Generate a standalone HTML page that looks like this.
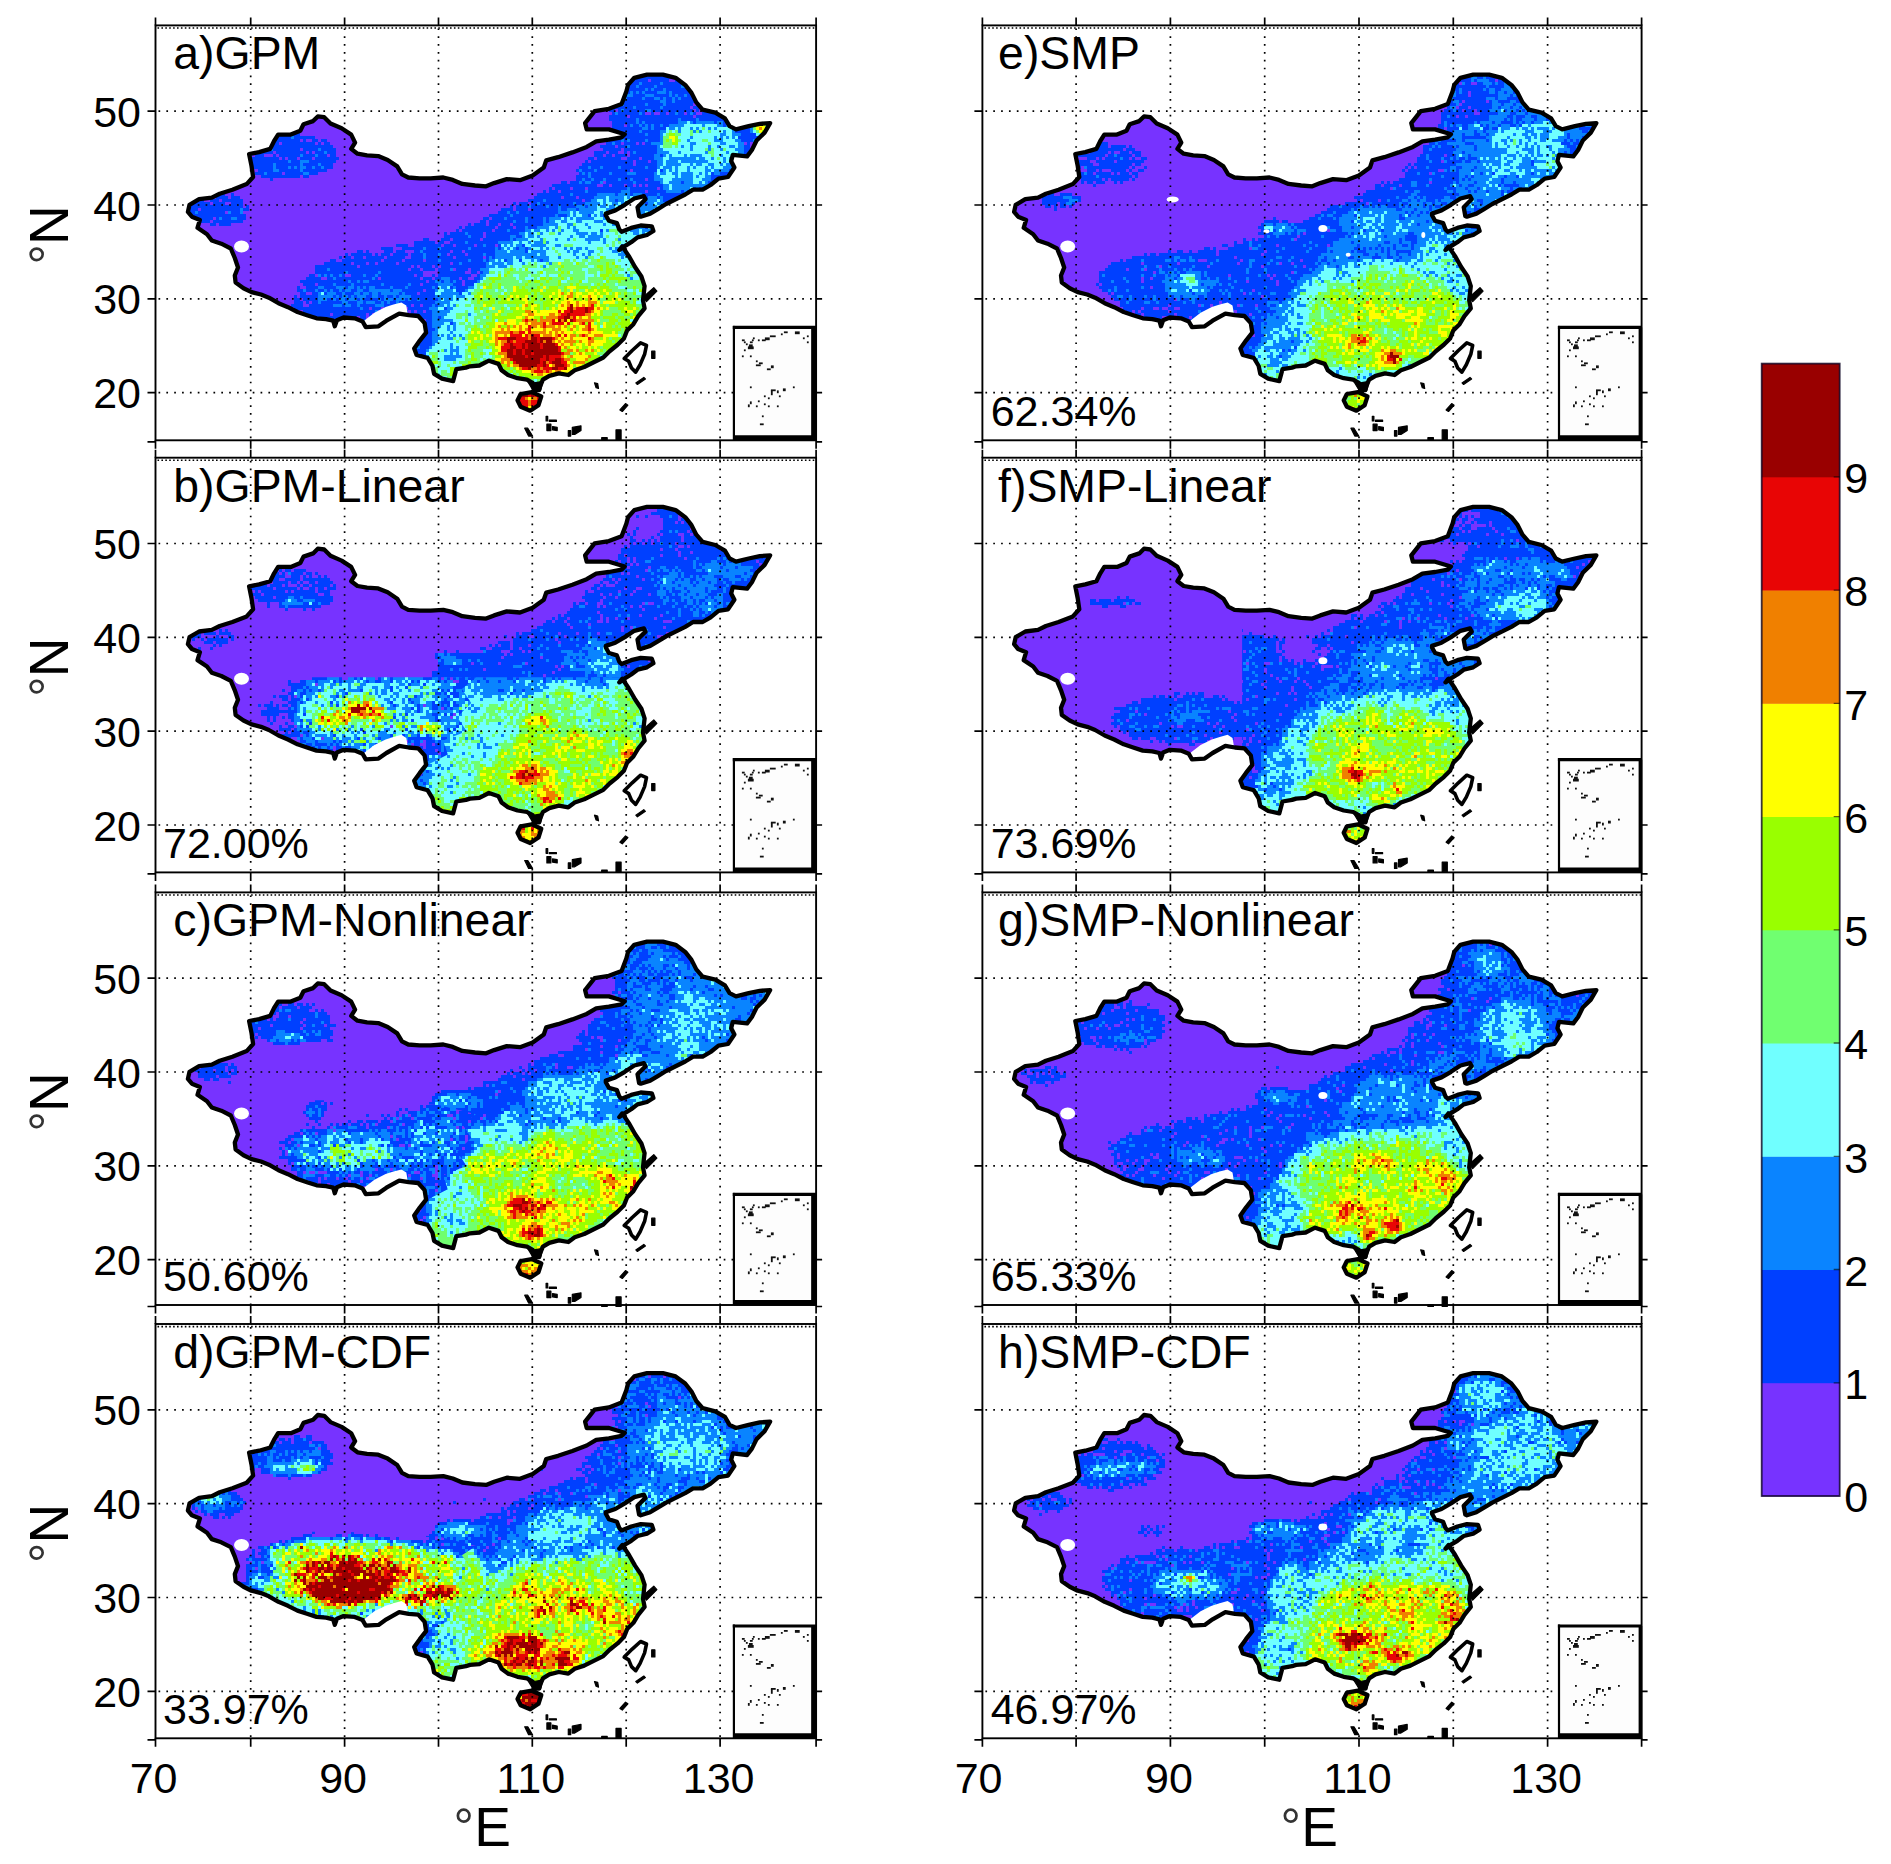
<!DOCTYPE html>
<html lang="en"><head><meta charset="utf-8"><title>Precipitation maps</title>
<style>html,body{margin:0;padding:0;background:#fff}svg{display:block}text{font-family:"Liberation Sans",Arial,Helvetica,sans-serif;fill:#000}</style></head><body>
<svg width="1891" height="1864" viewBox="0 0 1891 1864">
<rect width="1891" height="1864" fill="#fff"/>
<defs>
<path id="cn" d="M93.6,128.6 L96.0,140.5 L97.6,151.6 L91.2,158.7 L76.9,164.3 L64.2,168.3 L56.3,172.2 L43.6,173.8 L34.0,179.4 L32.4,186.5 L36.4,191.3 L44.4,194.5 L42.0,202.4 L51.5,208.8 L56.3,215.1 L65.8,218.3 L75.3,223.1 L79.3,232.6 L82.5,242.1 L79.3,250.1 L80.1,257.2 L88.0,262.8 L96.0,266.7 L105.5,269.1 L113.4,272.3 L123.0,277.8 L132.5,281.8 L142.0,286.6 L151.5,289.8 L161.1,292.9 L170.6,293.7 L177.7,295.3 L179.3,300.9 L181.4,294.8 L188.1,292.1 L199.2,292.9 L207.1,296.1 L210.3,301.7 L223.0,300.9 L230.9,295.3 L243.7,288.2 L253.2,289.8 L262.7,290.6 L269.1,297.7 L270.6,307.2 L264.3,315.2 L258.7,323.1 L261.1,329.5 L272.2,332.6 L277.0,340.6 L278.6,348.5 L286.5,353.3 L297.6,355.7 L300.8,343.8 L310.4,342.2 L314.4,340.9 L323.9,340.1 L333.4,335.3 L343.0,338.5 L346.1,344.8 L352.5,349.6 L362.0,352.8 L371.5,354.3 L377.1,357.5 L378.7,364.7 L383.5,364.7 L385.0,359.9 L387.4,354.3 L393.8,350.4 L403.3,348.0 L412.8,349.6 L419.2,344.8 L428.7,341.6 L438.2,336.9 L447.8,332.1 L454.1,325.8 L462.1,319.4 L468.4,313.1 L471.6,305.1 L477.9,298.8 L482.7,290.8 L489.1,282.9 L487.5,274.9 L489.1,260.7 L485.9,251.1 L479.5,241.6 L473.2,230.5 L466.8,221.0 L463.8,224.7 L469.3,220.7 L475.7,216.8 L482.0,212.0 L491.5,209.6 L497.9,205.6 L496.3,200.9 L485.2,200.1 L475.7,202.5 L466.1,206.4 L463.8,204.1 L461.4,197.7 L453.4,195.3 L450.3,189.8 L450.3,188.2 L459.8,185.0 L469.3,179.4 L478.8,173.1 L488.4,170.7 L490.0,173.9 L482.0,181.8 L483.6,190.6 L485.2,191.3 L494.7,188.2 L502.7,183.4 L510.6,178.6 L520.1,173.9 L529.7,169.1 L537.6,164.3 L547.1,164.3 L555.1,159.6 L563.0,153.2 L572.5,151.6 L578.9,142.1 L575.7,135.8 L577.3,129.4 L591.6,131.0 L596.4,124.6 L601.1,115.1 L609.1,107.2 L614.6,97.7 L604.3,98.4 L593.2,100.8 L580.5,104.0 L574.1,100.8 L569.4,92.9 L559.8,87.3 L547.1,84.2 L540.8,77.0 L536.0,67.5 L529.7,59.5 L520.1,52.4 L507.4,49.2 L491.5,49.2 L478.8,52.4 L472.5,59.5 L470.9,65.9 L466.1,78.6 L453.4,83.4 L439.1,85.7 L429.6,97.7 L431.2,104.0 L453.4,104.0 L469.3,108.8 L466.1,111.9 L453.4,114.3 L440.7,115.9 L431.2,121.5 L416.9,127.0 L402.6,131.8 L390.7,135.0 L388.3,142.1 L377.2,150.1 L364.5,154.8 L351.3,153.7 L338.6,157.7 L330.6,160.9 L319.5,160.1 L306.8,158.5 L297.3,154.5 L287.8,152.1 L275.1,152.9 L264.0,152.9 L252.8,152.1 L246.5,148.9 L241.7,141.0 L232.2,134.6 L222.7,130.7 L211.5,129.9 L202.0,128.3 L195.7,123.5 L199.6,117.2 L195.7,109.2 L186.1,102.9 L175.0,98.1 L168.7,91.8 L162.3,91.0 L157.6,95.7 L148.0,98.9 L144.8,105.3 L135.3,109.2 L122.6,109.2 L118.6,115.6 L114.7,123.5 L103.6,126.7Z"/>
<path id="hn" d="M362.0,375.0 L365.2,368.6 L376.3,366.7 L385.8,371.0 L383.0,379.8 L374.7,385.3 L365.2,381.3Z"/>
<path id="tw" d="M485.1,317.5 L491.0,320.0 L489.1,328.9 L484.6,339.4 L480.2,346.7 L476.0,342.6 L473.2,335.9 L468.7,333.1 L476.7,325.1Z"/>
<clipPath id="clip"><use href="#cn"/><use href="#hn"/></clipPath>
<g id="mk" fill="#000" stroke="#000" stroke-width="1.2" stroke-linejoin="round"><path d="M371.5,355.1 L378.7,357.5 L387.4,355.9 L385.0,365.5 L377.9,365.5Z"/><path d="M496.2,325.8 L499.4,325.8 L499.4,332.9 L496.2,332.9Z"/><path d="M480.3,357.5 L488.3,352.0 L489.9,353.6 L481.9,359.1Z"/><path d="M439.0,357.5 L442.2,358.3 L443.0,363.1 L440.6,362.3Z"/><path d="M464.4,384.5 L470.0,378.2 L472.4,379.8 L466.8,386.1Z"/><path d="M369.2,402.8 L372.3,402.8 L377.1,410.7 L373.1,410.7Z"/><path d="M412.8,405.2 L415.2,405.2 L415.2,410.7 L412.8,410.7Z"/><path d="M416.8,402.0 L425.5,400.4 L425.5,405.2 L419.2,409.1 L416.8,409.1Z"/><path d="M460.5,404.4 L465.6,404.4 L465.6,414.1 L460.5,414.1Z"/><path d="M446.2,412.3 L451.7,412.3 L451.7,414.1 L446.2,414.1Z"/><path d="M390.6,390.9 L392.2,390.9 L392.2,395.6 L390.6,395.6Z"/><path d="M393.8,394.8 L400.9,394.8 L400.9,396.0 L393.8,396.0Z"/><path d="M391.4,398.8 L395.4,398.8 L395.4,405.2 L391.4,405.2Z"/><path d="M397.0,401.2 L401.7,402.0 L401.7,405.2 L397.0,404.4Z"/><path d="M487.5,271.8 L498.3,262.2 L501.4,265.7 L491.0,276.2Z"/></g>
</defs>
<g transform="translate(155.5,25.4)"><g><filter id="f0_0" filterUnits="userSpaceOnUse" x="0" y="0" width="663" height="417" color-interpolation-filters="sRGB"><feGaussianBlur in="SourceGraphic" stdDeviation="3.0" result="b"/><feTurbulence type="fractalNoise" baseFrequency="0.050" numOctaves="2" seed="3" result="t1"/><feColorMatrix in="t1" type="matrix" values="1 0 0 0 0 1 0 0 0 0 1 0 0 0 0 0 0 0 0 1" result="n1"/><feComposite in="b" in2="n1" operator="arithmetic" k1="0.5500" k2="0.7250" k3="0" k4="0" result="s1"/><feTurbulence type="fractalNoise" baseFrequency="0.400" numOctaves="1" seed="11" result="t2"/><feColorMatrix in="t2" type="matrix" values="0 1 0 0 0 0 1 0 0 0 0 1 0 0 0 0 0 0 0 1" result="n2"/><feComposite in="s1" in2="n2" operator="arithmetic" k1="0.6000" k2="0.7000" k3="0.0929" k4="-0.0464" result="s2"/><feFlood x="1" y="1" width="1" height="1" flood-color="#fff" result="dot"/><feComposite in="dot" in2="dot" operator="over" x="0" y="0" width="3" height="3" result="cell"/><feTile in="cell" result="grid"/><feComposite in="s2" in2="grid" operator="in" result="sm"/><feMorphology in="sm" operator="dilate" radius="1" result="pix"/><feComponentTransfer in="pix"><feFuncR type="discrete" tableValues="0.467 0.467 0.000 0.039 0.439 0.439 0.600 1.000 0.941 0.910 0.600 0.600 0.600 0.600"/><feFuncG type="discrete" tableValues="0.200 0.200 0.251 0.518 1.000 1.000 1.000 1.000 0.502 0.020 0.000 0.000 0.000 0.000"/><feFuncB type="discrete" tableValues="1.000 1.000 1.000 1.000 1.000 0.439 0.000 0.000 0.000 0.020 0.000 0.000 0.000 0.000"/></feComponentTransfer></filter><g clip-path="url(#clip)"><g><g transform="translate(0.50,-0.40)"><g filter="url(#f0_0)"><g transform="translate(-0.50,0.40)"><rect x="-20" y="-20" width="700.6" height="454.9" fill="#121212"/><ellipse cx="132.8" cy="130.8" rx="51.6" ry="24.4" fill="#2c2c2c"/><ellipse cx="142.1" cy="142.1" rx="32.9" ry="3.8" fill="#3a3a3a"/><ellipse cx="62.3" cy="184.3" rx="32.9" ry="18.8" fill="#2c2c2c"/><path d="M156.2,311.0 L135.6,278.2 L146.8,251.9 L170.3,233.1 L226.6,221.9 L273.6,212.5 L320.5,195.6 L358.1,176.8 L395.6,160.9 L423.8,140.2 L447.2,118.6 L461.3,85.8 L480.1,38.9 L630.3,38.9 L630.3,404.8 L156.2,404.8Z" fill="#2c2c2c"/><ellipse cx="203.2" cy="269.7" rx="46.9" ry="11.3" fill="#3c3c3c"/><ellipse cx="289.5" cy="287.5" rx="13.1" ry="37.5" fill="#3e3e3e"/><ellipse cx="367.5" cy="148.7" rx="56.3" ry="11.3" fill="#181818"/><ellipse cx="489.5" cy="85.8" rx="37.6" ry="32.8" fill="#313131"/><ellipse cx="545.8" cy="123.3" rx="42.2" ry="28.1" fill="#4c4c4c"/><ellipse cx="527.0" cy="146.8" rx="28.2" ry="18.8" fill="#474747"/><ellipse cx="514.8" cy="113.9" rx="8.4" ry="8.4" fill="#808080"/><ellipse cx="605.9" cy="102.7" rx="6.6" ry="4.7" fill="#bfbfbf"/><path d="M320.5,273.5 L329.9,235.9 L358.1,212.5 L395.6,193.7 L433.2,174.9 L470.7,164.6 L508.3,170.2 L508.3,273.5Z" fill="#454545"/><ellipse cx="433.2" cy="221.9" rx="46.9" ry="28.1" fill="#505050"/><path d="M268.9,367.3 L273.6,325.1 L287.7,301.6 L304.6,273.5 L323.3,254.7 L358.1,240.6 L423.8,233.1 L498.9,233.1 L508.3,301.6 L461.3,367.3 L358.1,376.7Z" fill="#646464"/><ellipse cx="297.0" cy="315.7" rx="18.8" ry="23.5" fill="#4c4c4c"/><ellipse cx="405.0" cy="287.5" rx="75.1" ry="28.1" fill="#767676"/><ellipse cx="456.6" cy="301.6" rx="28.2" ry="37.5" fill="#757575"/><ellipse cx="339.3" cy="320.4" rx="28.2" ry="23.5" fill="#737373"/><ellipse cx="390.9" cy="315.7" rx="56.3" ry="31.9" fill="#8a8a8a"/><ellipse cx="414.4" cy="289.4" rx="37.6" ry="11.3" fill="#8a8a8a" transform="rotate(-15 414.4 289.4)"/><ellipse cx="379.7" cy="327.9" rx="26.3" ry="17.8" fill="#c5c5c5"/><ellipse cx="409.7" cy="290.3" rx="28.2" ry="6.6" fill="#bdbdbd" transform="rotate(-15 409.7 290.3)"/><ellipse cx="395.6" cy="341.0" rx="20.7" ry="9.4" fill="#bdbdbd"/><ellipse cx="362.8" cy="320.4" rx="14.1" ry="14.1" fill="#adadad"/><ellipse cx="374.0" cy="374.8" rx="18.8" ry="14.1" fill="#adadad"/></g></g></g></g></g><path d="M208.2,295.6 L218.9,287.3 L230.1,281.7 L238.0,279.2 L245.9,277.1 L250.8,280.2 L252.1,287.5 L241.2,288.7 L225.3,300.2 L209.4,300.2Z" fill="#fff"/><ellipse cx="86" cy="221" rx="7.5" ry="6" fill="#fff"/><g fill="none" stroke="#000" stroke-width="4.3" stroke-linejoin="round"><use href="#cn"/><use href="#hn"/></g><use href="#tw" fill="#fff" stroke="#000" stroke-width="3.6" stroke-linejoin="round"/><use href="#mk"/></g><path d="M95.2,3V414.9M189.1,3V414.9M283.0,3V414.9M376.8,3V414.9M470.7,3V414.9M564.6,3V414.9M3,367.3H660.6M3,273.5H660.6M3,179.6H660.6M3,85.8H660.6" fill="none" stroke="#000" stroke-width="1.7" stroke-dasharray="1.7 6.15"/><path d="M2,2.6H660.6" fill="none" stroke="#000" stroke-width="1.6" stroke-dasharray="1.6 2.3"/><rect x="578.4" y="302.0" width="82.2" height="112.9" fill="#fdfdfd"/><path d="M578.4,414.9V300.5" stroke="#000" stroke-width="2.2" fill="none"/><path d="M577.3,302.0H660.6" stroke="#000" stroke-width="3.2" fill="none"/><path d="M658.4,302.0V414.9" stroke="#000" stroke-width="5.5" fill="none"/><path d="M578.4,412.7H660.6" stroke="#000" stroke-width="5.5" fill="none"/><g fill="#111"><rect x="586.4" y="314.0" width="2.8" height="1.8"/><rect x="588.4" y="316.0" width="1.8" height="1.8"/><rect x="590.4" y="318.0" width="1.8" height="1.8"/><rect x="592.4" y="321.0" width="5.8" height="2.8"/><rect x="593.4" y="319.0" width="3.8" height="2.8"/><rect x="594.4" y="316.0" width="2.8" height="1.8"/><rect x="596.4" y="314.0" width="1.8" height="1.8"/><rect x="597.4" y="312.0" width="1.8" height="1.8"/><rect x="602.4" y="314.0" width="1.8" height="1.8"/><rect x="606.4" y="314.0" width="3.8" height="1.8"/><rect x="609.4" y="312.0" width="4.8" height="2.8"/><rect x="614.4" y="310.0" width="5.8" height="1.8"/><rect x="625.4" y="308.0" width="1.8" height="1.8"/><rect x="628.4" y="306.0" width="3.8" height="1.8"/><rect x="639.4" y="306.0" width="4.8" height="2.8"/><rect x="647.4" y="312.0" width="1.8" height="1.8"/><rect x="651.4" y="310.0" width="1.8" height="1.8"/><rect x="651.4" y="316.0" width="1.8" height="1.8"/><rect x="588.4" y="324.0" width="1.8" height="1.8"/><rect x="586.4" y="330.0" width="1.8" height="1.8"/><rect x="594.4" y="330.0" width="1.8" height="1.8"/><rect x="600.4" y="335.0" width="1.8" height="1.8"/><rect x="600.4" y="339.0" width="4.8" height="1.8"/><rect x="603.4" y="337.0" width="3.8" height="1.8"/><rect x="611.4" y="343.0" width="3.8" height="1.8"/><rect x="615.4" y="340.0" width="2.8" height="2.8"/><rect x="594.4" y="361.0" width="1.8" height="1.8"/><rect x="637.4" y="361.0" width="1.8" height="1.8"/><rect x="615.4" y="365.0" width="1.8" height="4.8"/><rect x="615.4" y="364.0" width="4.8" height="1.8"/><rect x="621.4" y="365.0" width="1.8" height="2.8"/><rect x="627.4" y="363.0" width="2.8" height="2.8"/><rect x="608.4" y="370.0" width="1.8" height="1.8"/><rect x="612.4" y="372.0" width="1.8" height="1.8"/><rect x="623.4" y="370.0" width="1.8" height="1.8"/><rect x="602.4" y="375.0" width="1.8" height="1.8"/><rect x="594.4" y="376.0" width="1.8" height="2.8"/><rect x="592.4" y="379.0" width="1.8" height="2.8"/><rect x="600.4" y="380.0" width="1.8" height="1.8"/><rect x="608.4" y="378.0" width="1.8" height="1.8"/><rect x="612.4" y="380.0" width="1.8" height="1.8"/><rect x="621.4" y="380.0" width="1.8" height="1.8"/><rect x="606.4" y="390.0" width="1.8" height="1.8"/><rect x="604.4" y="398.0" width="3.8" height="1.8"/></g><rect x="0" y="0" width="660.6" height="414.9" fill="none" stroke="#000" stroke-width="1.9"/><path d="M0.0,0v-8M0.0,414.9v8.5M95.2,0v-8M95.2,414.9v8.5M189.1,0v-8M189.1,414.9v8.5M283.0,0v-8M283.0,414.9v8.5M376.8,0v-8M376.8,414.9v8.5M470.7,0v-8M470.7,414.9v8.5M564.6,0v-8M564.6,414.9v8.5M660.6,0v-8M660.6,414.9v8.5M0,367.3h-8M660.6,367.3h6M0,273.5h-8M660.6,273.5h6M0,179.6h-8M660.6,179.6h6M0,85.8h-8M660.6,85.8h6M0,416.4h-8M660.6,416.4h6" fill="none" stroke="#000" stroke-width="1.7"/><text x="-14.5" y="382.9" font-size="43" text-anchor="end">20</text><text x="-14.5" y="289.1" font-size="43" text-anchor="end">30</text><text x="-14.5" y="195.2" font-size="43" text-anchor="end">40</text><text x="-14.5" y="101.4" font-size="43" text-anchor="end">50</text><text transform="translate(-87.5,219.6) rotate(-90)" x="-19.5" y="0" font-size="55"><tspan font-size="51" dy="-1.7" fill="#333">°</tspan><tspan dy="1.7" dx="-0.9">N</tspan></text><text x="17.8" y="44.1" font-size="46.4">a)GPM</text></g>
<g transform="translate(155.5,457.7)"><g><filter id="f1_0" filterUnits="userSpaceOnUse" x="0" y="0" width="663" height="417" color-interpolation-filters="sRGB"><feGaussianBlur in="SourceGraphic" stdDeviation="3.0" result="b"/><feTurbulence type="fractalNoise" baseFrequency="0.050" numOctaves="2" seed="10" result="t1"/><feColorMatrix in="t1" type="matrix" values="1 0 0 0 0 1 0 0 0 0 1 0 0 0 0 0 0 0 0 1" result="n1"/><feComposite in="b" in2="n1" operator="arithmetic" k1="0.5500" k2="0.7250" k3="0" k4="0" result="s1"/><feTurbulence type="fractalNoise" baseFrequency="0.400" numOctaves="1" seed="16" result="t2"/><feColorMatrix in="t2" type="matrix" values="0 1 0 0 0 0 1 0 0 0 0 1 0 0 0 0 0 0 0 1" result="n2"/><feComposite in="s1" in2="n2" operator="arithmetic" k1="0.6000" k2="0.7000" k3="0.0929" k4="-0.0464" result="s2"/><feFlood x="1" y="1" width="1" height="1" flood-color="#fff" result="dot"/><feComposite in="dot" in2="dot" operator="over" x="0" y="0" width="3" height="3" result="cell"/><feTile in="cell" result="grid"/><feComposite in="s2" in2="grid" operator="in" result="sm"/><feMorphology in="sm" operator="dilate" radius="1" result="pix"/><feComponentTransfer in="pix"><feFuncR type="discrete" tableValues="0.467 0.467 0.000 0.039 0.439 0.439 0.600 1.000 0.941 0.910 0.600 0.600 0.600 0.600"/><feFuncG type="discrete" tableValues="0.200 0.200 0.251 0.518 1.000 1.000 1.000 1.000 0.502 0.020 0.000 0.000 0.000 0.000"/><feFuncB type="discrete" tableValues="1.000 1.000 1.000 1.000 1.000 0.439 0.000 0.000 0.000 0.020 0.000 0.000 0.000 0.000"/></feComponentTransfer></filter><g clip-path="url(#clip)"><g><g transform="translate(0.50,0.30)"><g filter="url(#f1_0)"><g transform="translate(-0.50,-0.30)"><rect x="-20" y="-20" width="700.6" height="454.7" fill="#121212"/><ellipse cx="132.8" cy="130.8" rx="46.9" ry="21.6" fill="#2a2a2a"/><ellipse cx="151.5" cy="144.9" rx="28.2" ry="4.7" fill="#424242"/><ellipse cx="57.6" cy="179.6" rx="23.5" ry="12.2" fill="#282828"/><path d="M264.2,226.5 L278.3,211.5 L311.1,198.4 L348.7,179.6 L386.2,165.6 L414.4,151.5 L433.2,132.7 L456.6,109.3 L470.7,76.4 L489.5,38.9 L630.3,38.9 L630.3,273.5 L264.2,273.5Z" fill="#2c2c2c"/><ellipse cx="536.4" cy="132.7" rx="37.6" ry="28.1" fill="#373737"/><ellipse cx="574.0" cy="113.9" rx="23.5" ry="14.1" fill="#3c3c3c"/><ellipse cx="433.2" cy="198.4" rx="28.2" ry="18.8" fill="#3a3a3a"/><ellipse cx="451.9" cy="203.1" rx="14.1" ry="18.8" fill="#494949"/><ellipse cx="297.0" cy="200.3" rx="18.8" ry="6.6" fill="#3e3e3e"/><ellipse cx="489.5" cy="67.0" rx="18.8" ry="18.8" fill="#1f1f1f"/></g></g></g></g></g><filter id="f1_1" filterUnits="userSpaceOnUse" x="0" y="0" width="663" height="417" color-interpolation-filters="sRGB"><feGaussianBlur in="SourceGraphic" stdDeviation="3.0" result="b"/><feTurbulence type="fractalNoise" baseFrequency="0.050" numOctaves="2" seed="10" result="t1"/><feColorMatrix in="t1" type="matrix" values="1 0 0 0 0 1 0 0 0 0 1 0 0 0 0 0 0 0 0 1" result="n1"/><feComposite in="b" in2="n1" operator="arithmetic" k1="0.5500" k2="0.7250" k3="0" k4="0" result="s1"/><feTurbulence type="fractalNoise" baseFrequency="0.400" numOctaves="1" seed="16" result="t2"/><feColorMatrix in="t2" type="matrix" values="0 1 0 0 0 0 1 0 0 0 0 1 0 0 0 0 0 0 0 1" result="n2"/><feComposite in="s1" in2="n2" operator="arithmetic" k1="0.6000" k2="0.7000" k3="0.0929" k4="-0.0464" result="s2"/><feFlood x="1" y="1" width="1" height="1" flood-color="#fff" result="dot"/><feComposite in="dot" in2="dot" operator="over" x="0" y="0" width="3" height="3" result="cell"/><feTile in="cell" result="grid"/><feComposite in="s2" in2="grid" operator="in" result="sm"/><feMorphology in="sm" operator="dilate" radius="1" result="pix"/><feComponentTransfer in="pix"><feFuncR type="discrete" tableValues="0.467 0.467 0.000 0.039 0.439 0.439 0.600 1.000 0.941 0.910 0.600 0.600 0.600 0.600"/><feFuncG type="discrete" tableValues="0.200 0.200 0.251 0.518 1.000 1.000 1.000 1.000 0.502 0.020 0.000 0.000 0.000 0.000"/><feFuncB type="discrete" tableValues="1.000 1.000 1.000 1.000 1.000 0.439 0.000 0.000 0.000 0.020 0.000 0.000 0.000 0.000"/></feComponentTransfer></filter><clipPath id="c1_1"><rect x="-92.6" y="219.5" width="844.9" height="241.6"/></clipPath><g clip-path="url(#clip)"><g clip-path="url(#c1_1)"><g transform="translate(0.50,0.30)"><g filter="url(#f1_1)"><g transform="translate(-0.50,-0.30)"><rect x="-20" y="-20" width="700.6" height="454.7" fill="#121212"/><ellipse cx="132.8" cy="254.7" rx="28.2" ry="28.1" fill="#212121"/><path d="M254.8,404.8 L254.8,273.5 L278.3,217.2 L630.3,217.2 L630.3,404.8Z" fill="#424242"/><path d="M301.7,224.7 L301.7,282.8 L508.3,282.8 L508.3,224.7Z" fill="#4c4c4c"/><ellipse cx="414.4" cy="252.8" rx="70.4" ry="20.6" fill="#616161"/><ellipse cx="470.7" cy="240.6" rx="23.5" ry="18.8" fill="#5b5b5b"/><ellipse cx="367.5" cy="233.1" rx="28.2" ry="7.5" fill="#424242"/><path d="M268.9,367.3 L273.6,325.1 L287.7,301.6 L304.6,273.5 L323.3,254.7 L358.1,240.6 L423.8,233.1 L498.9,233.1 L508.3,301.6 L461.3,367.3 L358.1,376.7Z" fill="#626262"/><ellipse cx="297.0" cy="315.7" rx="23.5" ry="28.1" fill="#545454"/><ellipse cx="339.3" cy="287.5" rx="28.2" ry="23.5" fill="#545454"/><ellipse cx="414.4" cy="306.3" rx="75.1" ry="35.7" fill="#737373"/><ellipse cx="358.1" cy="326.9" rx="37.6" ry="20.6" fill="#717171"/><ellipse cx="423.8" cy="280.0" rx="14.1" ry="7.5" fill="#8a8a8a"/><ellipse cx="456.6" cy="315.7" rx="14.1" ry="11.3" fill="#878787"/><ellipse cx="472.6" cy="296.9" rx="7.5" ry="14.1" fill="#929292"/><ellipse cx="372.1" cy="317.6" rx="28.2" ry="9.4" fill="#8e8e8e" transform="rotate(-10 372.1 317.6)"/><ellipse cx="372.1" cy="316.6" rx="18.8" ry="3.8" fill="#bababa" transform="rotate(-10 372.1 316.6)"/><ellipse cx="395.6" cy="339.1" rx="14.1" ry="11.3" fill="#8e8e8e"/><ellipse cx="381.5" cy="264.1" rx="14.1" ry="7.5" fill="#878787"/><ellipse cx="374.0" cy="374.8" rx="18.8" ry="14.1" fill="#9b9b9b"/></g></g></g></g></g><filter id="f1_2" filterUnits="userSpaceOnUse" x="0" y="0" width="663" height="417" color-interpolation-filters="sRGB"><feGaussianBlur in="SourceGraphic" stdDeviation="4.0" result="b"/><feTurbulence type="fractalNoise" baseFrequency="0.050" numOctaves="2" seed="10" result="t1"/><feColorMatrix in="t1" type="matrix" values="1 0 0 0 0 1 0 0 0 0 1 0 0 0 0 0 0 0 0 1" result="n1"/><feComposite in="b" in2="n1" operator="arithmetic" k1="0.8000" k2="0.6000" k3="0" k4="0" result="s1"/><feTurbulence type="fractalNoise" baseFrequency="0.400" numOctaves="1" seed="16" result="t2"/><feColorMatrix in="t2" type="matrix" values="0 1 0 0 0 0 1 0 0 0 0 1 0 0 0 0 0 0 0 1" result="n2"/><feComposite in="s1" in2="n2" operator="arithmetic" k1="1.5000" k2="0.2500" k3="0.0929" k4="-0.0464" result="s2"/><feFlood x="1" y="1" width="1" height="1" flood-color="#fff" result="dot"/><feComposite in="dot" in2="dot" operator="over" x="0" y="0" width="3" height="3" result="cell"/><feTile in="cell" result="grid"/><feComposite in="s2" in2="grid" operator="in" result="sm"/><feMorphology in="sm" operator="dilate" radius="1" result="pix"/><feComponentTransfer in="pix"><feFuncR type="discrete" tableValues="0.467 0.467 0.000 0.039 0.439 0.439 0.600 1.000 0.941 0.910 0.600 0.600 0.600 0.600"/><feFuncG type="discrete" tableValues="0.200 0.200 0.251 0.518 1.000 1.000 1.000 1.000 0.502 0.020 0.000 0.000 0.000 0.000"/><feFuncB type="discrete" tableValues="1.000 1.000 1.000 1.000 1.000 0.439 0.000 0.000 0.000 0.020 0.000 0.000 0.000 0.000"/></feComponentTransfer></filter><clipPath id="c1_2"><path d="M76.4,219.5 L320.5,219.5 L306.4,231.2 L315.8,245.3 L301.7,259.4 L311.1,273.5 L287.7,282.8 L292.3,296.9 L273.6,306.3 L264.2,320.4 L76.4,320.4Z"/></clipPath><g clip-path="url(#clip)"><g clip-path="url(#c1_2)"><g transform="translate(0.50,0.30)"><g filter="url(#f1_2)"><g transform="translate(-0.50,-0.30)"><rect x="-20" y="-20" width="700.6" height="454.7" fill="#121212"/><ellipse cx="132.8" cy="254.7" rx="28.2" ry="32.8" fill="#212121"/><path d="M151.5,217.2 L132.8,245.3 L142.1,282.8 L151.5,329.8 L339.3,329.8 L339.3,217.2Z" fill="#3c3c3c"/><ellipse cx="207.9" cy="254.7" rx="65.7" ry="32.8" fill="#4b4b4b"/><ellipse cx="198.5" cy="257.5" rx="37.6" ry="16.9" fill="#5f5f5f"/><ellipse cx="210.7" cy="252.8" rx="22.5" ry="5.6" fill="#d1d1d1" transform="rotate(8 210.7 252.8)"/><ellipse cx="175.0" cy="261.3" rx="18.8" ry="4.7" fill="#9b9b9b"/><ellipse cx="273.6" cy="273.5" rx="14.1" ry="4.7" fill="#adadad"/><ellipse cx="259.5" cy="240.6" rx="28.2" ry="18.8" fill="#494949"/><ellipse cx="268.9" cy="284.7" rx="14.1" ry="11.3" fill="#212121"/></g></g></g></g></g><path d="M208.2,295.6 L218.9,287.3 L230.1,281.7 L238.0,279.2 L245.9,277.1 L250.8,280.2 L252.1,287.5 L241.2,288.7 L225.3,300.2 L209.4,300.2Z" fill="#fff"/><ellipse cx="86" cy="221" rx="7.5" ry="6" fill="#fff"/><g fill="none" stroke="#000" stroke-width="4.3" stroke-linejoin="round"><use href="#cn"/><use href="#hn"/></g><use href="#tw" fill="#fff" stroke="#000" stroke-width="3.6" stroke-linejoin="round"/><use href="#mk"/></g><path d="M95.2,3V414.7M189.1,3V414.7M283.0,3V414.7M376.8,3V414.7M470.7,3V414.7M564.6,3V414.7M3,367.3H660.6M3,273.5H660.6M3,179.6H660.6M3,85.8H660.6" fill="none" stroke="#000" stroke-width="1.7" stroke-dasharray="1.7 6.15"/><path d="M2,2.6H660.6" fill="none" stroke="#000" stroke-width="1.6" stroke-dasharray="1.6 2.3"/><rect x="578.4" y="302.0" width="82.2" height="112.7" fill="#fdfdfd"/><path d="M578.4,414.7V300.5" stroke="#000" stroke-width="2.2" fill="none"/><path d="M577.3,302.0H660.6" stroke="#000" stroke-width="3.2" fill="none"/><path d="M658.4,302.0V414.7" stroke="#000" stroke-width="5.5" fill="none"/><path d="M578.4,412.5H660.6" stroke="#000" stroke-width="5.5" fill="none"/><g fill="#111"><rect x="586.4" y="314.0" width="2.8" height="1.8"/><rect x="588.4" y="316.0" width="1.8" height="1.8"/><rect x="590.4" y="318.0" width="1.8" height="1.8"/><rect x="592.4" y="321.0" width="5.8" height="2.8"/><rect x="593.4" y="319.0" width="3.8" height="2.8"/><rect x="594.4" y="316.0" width="2.8" height="1.8"/><rect x="596.4" y="314.0" width="1.8" height="1.8"/><rect x="597.4" y="312.0" width="1.8" height="1.8"/><rect x="602.4" y="314.0" width="1.8" height="1.8"/><rect x="606.4" y="314.0" width="3.8" height="1.8"/><rect x="609.4" y="312.0" width="4.8" height="2.8"/><rect x="614.4" y="310.0" width="5.8" height="1.8"/><rect x="625.4" y="308.0" width="1.8" height="1.8"/><rect x="628.4" y="306.0" width="3.8" height="1.8"/><rect x="639.4" y="306.0" width="4.8" height="2.8"/><rect x="647.4" y="312.0" width="1.8" height="1.8"/><rect x="651.4" y="310.0" width="1.8" height="1.8"/><rect x="651.4" y="316.0" width="1.8" height="1.8"/><rect x="588.4" y="324.0" width="1.8" height="1.8"/><rect x="586.4" y="330.0" width="1.8" height="1.8"/><rect x="594.4" y="330.0" width="1.8" height="1.8"/><rect x="600.4" y="335.0" width="1.8" height="1.8"/><rect x="600.4" y="339.0" width="4.8" height="1.8"/><rect x="603.4" y="337.0" width="3.8" height="1.8"/><rect x="611.4" y="343.0" width="3.8" height="1.8"/><rect x="615.4" y="340.0" width="2.8" height="2.8"/><rect x="594.4" y="361.0" width="1.8" height="1.8"/><rect x="637.4" y="361.0" width="1.8" height="1.8"/><rect x="615.4" y="365.0" width="1.8" height="4.8"/><rect x="615.4" y="364.0" width="4.8" height="1.8"/><rect x="621.4" y="365.0" width="1.8" height="2.8"/><rect x="627.4" y="363.0" width="2.8" height="2.8"/><rect x="608.4" y="370.0" width="1.8" height="1.8"/><rect x="612.4" y="372.0" width="1.8" height="1.8"/><rect x="623.4" y="370.0" width="1.8" height="1.8"/><rect x="602.4" y="375.0" width="1.8" height="1.8"/><rect x="594.4" y="376.0" width="1.8" height="2.8"/><rect x="592.4" y="379.0" width="1.8" height="2.8"/><rect x="600.4" y="380.0" width="1.8" height="1.8"/><rect x="608.4" y="378.0" width="1.8" height="1.8"/><rect x="612.4" y="380.0" width="1.8" height="1.8"/><rect x="621.4" y="380.0" width="1.8" height="1.8"/><rect x="606.4" y="390.0" width="1.8" height="1.8"/><rect x="604.4" y="398.0" width="3.8" height="1.8"/></g><rect x="0" y="0" width="660.6" height="414.7" fill="none" stroke="#000" stroke-width="1.9"/><path d="M0.0,0v-8M0.0,414.7v8.5M95.2,0v-8M95.2,414.7v8.5M189.1,0v-8M189.1,414.7v8.5M283.0,0v-8M283.0,414.7v8.5M376.8,0v-8M376.8,414.7v8.5M470.7,0v-8M470.7,414.7v8.5M564.6,0v-8M564.6,414.7v8.5M660.6,0v-8M660.6,414.7v8.5M0,367.3h-8M660.6,367.3h6M0,273.5h-8M660.6,273.5h6M0,179.6h-8M660.6,179.6h6M0,85.8h-8M660.6,85.8h6M0,416.2h-8M660.6,416.2h6" fill="none" stroke="#000" stroke-width="1.7"/><text x="-14.5" y="382.9" font-size="43" text-anchor="end">20</text><text x="-14.5" y="289.1" font-size="43" text-anchor="end">30</text><text x="-14.5" y="195.2" font-size="43" text-anchor="end">40</text><text x="-14.5" y="101.4" font-size="43" text-anchor="end">50</text><text transform="translate(-87.5,219.6) rotate(-90)" x="-19.5" y="0" font-size="55"><tspan font-size="51" dy="-1.7" fill="#333">°</tspan><tspan dy="1.7" dx="-0.9">N</tspan></text><text x="17.8" y="44.1" font-size="46.4">b)GPM-Linear</text><text x="7.5" y="400.8" font-size="43">72.00%</text></g>
<g transform="translate(155.5,892.4)"><g><filter id="f2_0" filterUnits="userSpaceOnUse" x="0" y="0" width="663" height="415" color-interpolation-filters="sRGB"><feGaussianBlur in="SourceGraphic" stdDeviation="3.0" result="b"/><feTurbulence type="fractalNoise" baseFrequency="0.050" numOctaves="2" seed="17" result="t1"/><feColorMatrix in="t1" type="matrix" values="1 0 0 0 0 1 0 0 0 0 1 0 0 0 0 0 0 0 0 1" result="n1"/><feComposite in="b" in2="n1" operator="arithmetic" k1="0.5500" k2="0.7250" k3="0" k4="0" result="s1"/><feTurbulence type="fractalNoise" baseFrequency="0.400" numOctaves="1" seed="21" result="t2"/><feColorMatrix in="t2" type="matrix" values="0 1 0 0 0 0 1 0 0 0 0 1 0 0 0 0 0 0 0 1" result="n2"/><feComposite in="s1" in2="n2" operator="arithmetic" k1="0.6000" k2="0.7000" k3="0.0929" k4="-0.0464" result="s2"/><feFlood x="1" y="1" width="1" height="1" flood-color="#fff" result="dot"/><feComposite in="dot" in2="dot" operator="over" x="0" y="0" width="3" height="3" result="cell"/><feTile in="cell" result="grid"/><feComposite in="s2" in2="grid" operator="in" result="sm"/><feMorphology in="sm" operator="dilate" radius="1" result="pix"/><feComponentTransfer in="pix"><feFuncR type="discrete" tableValues="0.467 0.467 0.000 0.039 0.439 0.439 0.600 1.000 0.941 0.910 0.600 0.600 0.600 0.600"/><feFuncG type="discrete" tableValues="0.200 0.200 0.251 0.518 1.000 1.000 1.000 1.000 0.502 0.020 0.000 0.000 0.000 0.000"/><feFuncB type="discrete" tableValues="1.000 1.000 1.000 1.000 1.000 0.439 0.000 0.000 0.000 0.020 0.000 0.000 0.000 0.000"/></feComponentTransfer></filter><g clip-path="url(#clip)"><g><g transform="translate(0.50,-0.40)"><g filter="url(#f2_0)"><g transform="translate(-0.50,0.40)"><rect x="-20" y="-20" width="700.6" height="452.6" fill="#121212"/><ellipse cx="132.8" cy="130.8" rx="46.9" ry="22.5" fill="#2c2c2c"/><ellipse cx="146.8" cy="144.0" rx="32.9" ry="4.7" fill="#424242"/><ellipse cx="62.3" cy="179.6" rx="23.5" ry="12.2" fill="#2a2a2a"/><path d="M156.2,311.0 L135.6,278.2 L146.8,251.9 L170.3,233.1 L226.6,221.9 L273.6,212.5 L320.5,195.6 L358.1,176.8 L395.6,160.9 L423.8,140.2 L447.2,118.6 L461.3,85.8 L480.1,38.9 L630.3,38.9 L630.3,404.8 L156.2,404.8Z" fill="#2e2e2e"/><ellipse cx="367.5" cy="148.7" rx="56.3" ry="11.3" fill="#181818"/><ellipse cx="311.1" cy="179.6" rx="28.2" ry="18.8" fill="#191919"/><path d="M461.3,165.6 L480.1,142.1 L466.0,113.9 L480.1,85.8 L489.5,48.3 L536.4,67.0 L574.0,95.2 L620.9,95.2 L620.9,123.3 L574.0,160.9 L527.0,179.6 L489.5,184.3Z" fill="#3c3c3c"/><ellipse cx="536.4" cy="132.7" rx="37.6" ry="32.8" fill="#474747"/><ellipse cx="480.1" cy="76.4" rx="23.5" ry="23.5" fill="#353535"/><path d="M320.5,273.5 L329.9,235.9 L358.1,212.5 L395.6,193.7 L433.2,174.9 L470.7,164.6 L508.3,170.2 L508.3,273.5Z" fill="#424242"/><ellipse cx="405.0" cy="203.1" rx="37.6" ry="18.8" fill="#4b4b4b"/><ellipse cx="301.7" cy="207.8" rx="23.5" ry="9.4" fill="#424242"/><path d="M268.9,367.3 L273.6,325.1 L287.7,301.6 L304.6,273.5 L323.3,254.7 L358.1,240.6 L423.8,233.1 L498.9,233.1 L508.3,301.6 L461.3,367.3 L358.1,376.7Z" fill="#6a6a6a"/><ellipse cx="297.0" cy="315.7" rx="23.5" ry="28.1" fill="#545454"/><ellipse cx="339.3" cy="242.5" rx="37.6" ry="9.4" fill="#505050"/><ellipse cx="405.0" cy="292.2" rx="79.8" ry="42.2" fill="#757575"/><ellipse cx="348.7" cy="329.8" rx="32.9" ry="18.8" fill="#737373"/><ellipse cx="395.6" cy="259.4" rx="28.2" ry="9.4" fill="#818181"/><ellipse cx="433.2" cy="278.2" rx="18.8" ry="9.4" fill="#838383"/><ellipse cx="461.3" cy="301.6" rx="18.8" ry="23.5" fill="#808080"/><ellipse cx="320.5" cy="278.2" rx="9.4" ry="5.6" fill="#898989"/><ellipse cx="381.5" cy="325.1" rx="46.9" ry="20.6" fill="#838383"/><ellipse cx="475.4" cy="292.2" rx="6.6" ry="11.3" fill="#a4a4a4"/><ellipse cx="372.1" cy="312.9" rx="20.7" ry="7.5" fill="#bababa"/><ellipse cx="376.8" cy="339.1" rx="11.3" ry="7.5" fill="#b6b6b6"/><ellipse cx="409.7" cy="329.8" rx="11.3" ry="6.6" fill="#adadad"/><ellipse cx="353.4" cy="320.4" rx="9.4" ry="7.5" fill="#a4a4a4"/><ellipse cx="374.0" cy="374.8" rx="18.8" ry="14.1" fill="#929292"/></g></g></g></g></g><filter id="f2_1" filterUnits="userSpaceOnUse" x="0" y="0" width="663" height="415" color-interpolation-filters="sRGB"><feGaussianBlur in="SourceGraphic" stdDeviation="4.0" result="b"/><feTurbulence type="fractalNoise" baseFrequency="0.050" numOctaves="2" seed="17" result="t1"/><feColorMatrix in="t1" type="matrix" values="1 0 0 0 0 1 0 0 0 0 1 0 0 0 0 0 0 0 0 1" result="n1"/><feComposite in="b" in2="n1" operator="arithmetic" k1="0.7000" k2="0.6500" k3="0" k4="0" result="s1"/><feTurbulence type="fractalNoise" baseFrequency="0.400" numOctaves="1" seed="21" result="t2"/><feColorMatrix in="t2" type="matrix" values="0 1 0 0 0 0 1 0 0 0 0 1 0 0 0 0 0 0 0 1" result="n2"/><feComposite in="s1" in2="n2" operator="arithmetic" k1="1.3000" k2="0.3500" k3="0.0929" k4="-0.0464" result="s2"/><feFlood x="1" y="1" width="1" height="1" flood-color="#fff" result="dot"/><feComposite in="dot" in2="dot" operator="over" x="0" y="0" width="3" height="3" result="cell"/><feTile in="cell" result="grid"/><feComposite in="s2" in2="grid" operator="in" result="sm"/><feMorphology in="sm" operator="dilate" radius="1" result="pix"/><feComponentTransfer in="pix"><feFuncR type="discrete" tableValues="0.467 0.467 0.000 0.039 0.439 0.439 0.600 1.000 0.941 0.910 0.600 0.600 0.600 0.600"/><feFuncG type="discrete" tableValues="0.200 0.200 0.251 0.518 1.000 1.000 1.000 1.000 0.502 0.020 0.000 0.000 0.000 0.000"/><feFuncB type="discrete" tableValues="1.000 1.000 1.000 1.000 1.000 0.439 0.000 0.000 0.000 0.020 0.000 0.000 0.000 0.000"/></feComponentTransfer></filter><clipPath id="c2_1"><path d="M76.4,207.8 L189.1,207.8 L283.0,212.5 L320.5,221.9 L306.4,231.2 L315.8,245.3 L301.7,259.4 L311.1,273.5 L287.7,282.8 L292.3,296.9 L273.6,306.3 L264.2,320.4 L76.4,320.4Z"/></clipPath><g clip-path="url(#clip)"><g clip-path="url(#c2_1)"><g transform="translate(0.50,-0.40)"><g filter="url(#f2_1)"><g transform="translate(-0.50,0.40)"><rect x="-20" y="-20" width="700.6" height="452.6" fill="#121212"/><path d="M156.2,311.0 L135.6,278.2 L146.8,251.9 L170.3,233.1 L226.6,221.9 L273.6,212.5 L320.5,195.6 L358.1,176.8 L395.6,160.9 L423.8,140.2 L447.2,118.6 L461.3,85.8 L480.1,38.9 L630.3,38.9 L630.3,404.8 L156.2,404.8Z" fill="#2e2e2e"/><ellipse cx="198.5" cy="256.6" rx="75.1" ry="24.4" fill="#383838"/><ellipse cx="193.8" cy="259.4" rx="51.6" ry="16.9" fill="#454545"/><ellipse cx="207.9" cy="261.3" rx="28.2" ry="8.4" fill="#545454"/><ellipse cx="179.7" cy="259.4" rx="9.4" ry="3.8" fill="#929292"/><ellipse cx="212.6" cy="252.8" rx="9.4" ry="2.8" fill="#929292"/><ellipse cx="278.3" cy="245.3" rx="28.2" ry="23.5" fill="#424242"/><ellipse cx="160.9" cy="217.2" rx="11.3" ry="11.3" fill="#373737"/></g></g></g></g></g><path d="M208.2,295.6 L218.9,287.3 L230.1,281.7 L238.0,279.2 L245.9,277.1 L250.8,280.2 L252.1,287.5 L241.2,288.7 L225.3,300.2 L209.4,300.2Z" fill="#fff"/><ellipse cx="86" cy="221" rx="7.5" ry="6" fill="#fff"/><g fill="none" stroke="#000" stroke-width="4.3" stroke-linejoin="round"><use href="#cn"/><use href="#hn"/></g><use href="#tw" fill="#fff" stroke="#000" stroke-width="3.6" stroke-linejoin="round"/><use href="#mk"/></g><path d="M95.2,3V412.6M189.1,3V412.6M283.0,3V412.6M376.8,3V412.6M470.7,3V412.6M564.6,3V412.6M3,367.3H660.6M3,273.5H660.6M3,179.6H660.6M3,85.8H660.6" fill="none" stroke="#000" stroke-width="1.7" stroke-dasharray="1.7 6.15"/><path d="M2,2.6H660.6" fill="none" stroke="#000" stroke-width="1.6" stroke-dasharray="1.6 2.3"/><rect x="578.4" y="302.0" width="82.2" height="110.6" fill="#fdfdfd"/><path d="M578.4,412.6V300.5" stroke="#000" stroke-width="2.2" fill="none"/><path d="M577.3,302.0H660.6" stroke="#000" stroke-width="3.2" fill="none"/><path d="M658.4,302.0V412.6" stroke="#000" stroke-width="5.5" fill="none"/><path d="M578.4,410.4H660.6" stroke="#000" stroke-width="5.5" fill="none"/><g fill="#111"><rect x="586.4" y="314.0" width="2.8" height="1.8"/><rect x="588.4" y="316.0" width="1.8" height="1.8"/><rect x="590.4" y="318.0" width="1.8" height="1.8"/><rect x="592.4" y="321.0" width="5.8" height="2.8"/><rect x="593.4" y="319.0" width="3.8" height="2.8"/><rect x="594.4" y="316.0" width="2.8" height="1.8"/><rect x="596.4" y="314.0" width="1.8" height="1.8"/><rect x="597.4" y="312.0" width="1.8" height="1.8"/><rect x="602.4" y="314.0" width="1.8" height="1.8"/><rect x="606.4" y="314.0" width="3.8" height="1.8"/><rect x="609.4" y="312.0" width="4.8" height="2.8"/><rect x="614.4" y="310.0" width="5.8" height="1.8"/><rect x="625.4" y="308.0" width="1.8" height="1.8"/><rect x="628.4" y="306.0" width="3.8" height="1.8"/><rect x="639.4" y="306.0" width="4.8" height="2.8"/><rect x="647.4" y="312.0" width="1.8" height="1.8"/><rect x="651.4" y="310.0" width="1.8" height="1.8"/><rect x="651.4" y="316.0" width="1.8" height="1.8"/><rect x="588.4" y="324.0" width="1.8" height="1.8"/><rect x="586.4" y="330.0" width="1.8" height="1.8"/><rect x="594.4" y="330.0" width="1.8" height="1.8"/><rect x="600.4" y="335.0" width="1.8" height="1.8"/><rect x="600.4" y="339.0" width="4.8" height="1.8"/><rect x="603.4" y="337.0" width="3.8" height="1.8"/><rect x="611.4" y="343.0" width="3.8" height="1.8"/><rect x="615.4" y="340.0" width="2.8" height="2.8"/><rect x="594.4" y="361.0" width="1.8" height="1.8"/><rect x="637.4" y="361.0" width="1.8" height="1.8"/><rect x="615.4" y="365.0" width="1.8" height="4.8"/><rect x="615.4" y="364.0" width="4.8" height="1.8"/><rect x="621.4" y="365.0" width="1.8" height="2.8"/><rect x="627.4" y="363.0" width="2.8" height="2.8"/><rect x="608.4" y="370.0" width="1.8" height="1.8"/><rect x="612.4" y="372.0" width="1.8" height="1.8"/><rect x="623.4" y="370.0" width="1.8" height="1.8"/><rect x="602.4" y="375.0" width="1.8" height="1.8"/><rect x="594.4" y="376.0" width="1.8" height="2.8"/><rect x="592.4" y="379.0" width="1.8" height="2.8"/><rect x="600.4" y="380.0" width="1.8" height="1.8"/><rect x="608.4" y="378.0" width="1.8" height="1.8"/><rect x="612.4" y="380.0" width="1.8" height="1.8"/><rect x="621.4" y="380.0" width="1.8" height="1.8"/><rect x="606.4" y="390.0" width="1.8" height="1.8"/><rect x="604.4" y="398.0" width="3.8" height="1.8"/></g><rect x="0" y="0" width="660.6" height="412.6" fill="none" stroke="#000" stroke-width="1.9"/><path d="M0.0,0v-8M0.0,412.6v8.5M95.2,0v-8M95.2,412.6v8.5M189.1,0v-8M189.1,412.6v8.5M283.0,0v-8M283.0,412.6v8.5M376.8,0v-8M376.8,412.6v8.5M470.7,0v-8M470.7,412.6v8.5M564.6,0v-8M564.6,412.6v8.5M660.6,0v-8M660.6,412.6v8.5M0,367.3h-8M660.6,367.3h6M0,273.5h-8M660.6,273.5h6M0,179.6h-8M660.6,179.6h6M0,85.8h-8M660.6,85.8h6M0,414.1h-8M660.6,414.1h6" fill="none" stroke="#000" stroke-width="1.7"/><text x="-14.5" y="382.9" font-size="43" text-anchor="end">20</text><text x="-14.5" y="289.1" font-size="43" text-anchor="end">30</text><text x="-14.5" y="195.2" font-size="43" text-anchor="end">40</text><text x="-14.5" y="101.4" font-size="43" text-anchor="end">50</text><text transform="translate(-87.5,219.6) rotate(-90)" x="-19.5" y="0" font-size="55"><tspan font-size="51" dy="-1.7" fill="#333">°</tspan><tspan dy="1.7" dx="-0.9">N</tspan></text><text x="17.8" y="44.1" font-size="46.4">c)GPM-Nonlinear</text><text x="7.5" y="398.7" font-size="43">50.60%</text></g>
<g transform="translate(155.5,1324.0)"><g><filter id="f3_0" filterUnits="userSpaceOnUse" x="0" y="0" width="663" height="417" color-interpolation-filters="sRGB"><feGaussianBlur in="SourceGraphic" stdDeviation="3.0" result="b"/><feTurbulence type="fractalNoise" baseFrequency="0.050" numOctaves="2" seed="24" result="t1"/><feColorMatrix in="t1" type="matrix" values="1 0 0 0 0 1 0 0 0 0 1 0 0 0 0 0 0 0 0 1" result="n1"/><feComposite in="b" in2="n1" operator="arithmetic" k1="0.5500" k2="0.7250" k3="0" k4="0" result="s1"/><feTurbulence type="fractalNoise" baseFrequency="0.400" numOctaves="1" seed="26" result="t2"/><feColorMatrix in="t2" type="matrix" values="0 1 0 0 0 0 1 0 0 0 0 1 0 0 0 0 0 0 0 1" result="n2"/><feComposite in="s1" in2="n2" operator="arithmetic" k1="0.8000" k2="0.6000" k3="0.0929" k4="-0.0464" result="s2"/><feFlood x="1" y="1" width="1" height="1" flood-color="#fff" result="dot"/><feComposite in="dot" in2="dot" operator="over" x="0" y="0" width="3" height="3" result="cell"/><feTile in="cell" result="grid"/><feComposite in="s2" in2="grid" operator="in" result="sm"/><feMorphology in="sm" operator="dilate" radius="1" result="pix"/><feComponentTransfer in="pix"><feFuncR type="discrete" tableValues="0.467 0.467 0.000 0.039 0.439 0.439 0.600 1.000 0.941 0.910 0.600 0.600 0.600 0.600"/><feFuncG type="discrete" tableValues="0.200 0.200 0.251 0.518 1.000 1.000 1.000 1.000 0.502 0.020 0.000 0.000 0.000 0.000"/><feFuncB type="discrete" tableValues="1.000 1.000 1.000 1.000 1.000 0.439 0.000 0.000 0.000 0.020 0.000 0.000 0.000 0.000"/></feComponentTransfer></filter><g clip-path="url(#clip)"><g><g transform="translate(0.50,0.00)"><g filter="url(#f3_0)"><g transform="translate(-0.50,-0.00)"><rect x="-20" y="-20" width="700.6" height="454.3" fill="#121212"/><ellipse cx="132.8" cy="130.8" rx="46.9" ry="22.5" fill="#2e2e2e"/><ellipse cx="142.1" cy="144.0" rx="28.2" ry="6.6" fill="#545454"/><ellipse cx="151.5" cy="145.9" rx="9.4" ry="2.8" fill="#929292"/><ellipse cx="62.3" cy="179.6" rx="28.2" ry="15.0" fill="#333333"/><ellipse cx="57.6" cy="174.9" rx="14.1" ry="7.5" fill="#494949"/><path d="M156.2,311.0 L135.6,278.2 L146.8,251.9 L170.3,233.1 L226.6,221.9 L273.6,212.5 L320.5,195.6 L358.1,176.8 L395.6,160.9 L423.8,140.2 L447.2,118.6 L461.3,85.8 L480.1,38.9 L630.3,38.9 L630.3,404.8 L156.2,404.8Z" fill="#2e2e2e"/><ellipse cx="367.5" cy="148.7" rx="56.3" ry="11.3" fill="#181818"/><ellipse cx="311.1" cy="174.9" rx="28.2" ry="14.1" fill="#191919"/><path d="M461.3,165.6 L480.1,142.1 L466.0,113.9 L480.1,85.8 L489.5,48.3 L536.4,67.0 L574.0,95.2 L620.9,95.2 L620.9,123.3 L574.0,160.9 L527.0,179.6 L489.5,184.3Z" fill="#3c3c3c"/><ellipse cx="536.4" cy="123.3" rx="37.6" ry="28.1" fill="#494949"/><ellipse cx="508.3" cy="113.9" rx="18.8" ry="14.1" fill="#4e4e4e"/><ellipse cx="480.1" cy="76.4" rx="23.5" ry="23.5" fill="#353535"/><path d="M320.5,273.5 L329.9,235.9 L358.1,212.5 L395.6,193.7 L433.2,174.9 L470.7,164.6 L508.3,170.2 L508.3,273.5Z" fill="#424242"/><ellipse cx="405.0" cy="203.1" rx="37.6" ry="18.8" fill="#4c4c4c"/><ellipse cx="301.7" cy="205.0" rx="23.5" ry="8.4" fill="#494949"/><path d="M268.9,367.3 L273.6,325.1 L287.7,301.6 L304.6,273.5 L323.3,254.7 L358.1,240.6 L423.8,233.1 L498.9,233.1 L508.3,301.6 L461.3,367.3 L358.1,376.7Z" fill="#6a6a6a"/><ellipse cx="297.0" cy="320.4" rx="18.8" ry="28.1" fill="#575757"/><ellipse cx="348.7" cy="273.5" rx="23.5" ry="14.1" fill="#575757"/><ellipse cx="301.7" cy="254.7" rx="28.2" ry="32.8" fill="#6a6a6a"/><ellipse cx="405.0" cy="292.2" rx="79.8" ry="42.2" fill="#767676"/><ellipse cx="339.3" cy="325.1" rx="28.2" ry="18.8" fill="#757575"/><ellipse cx="395.6" cy="268.8" rx="37.6" ry="14.1" fill="#838383"/><ellipse cx="442.6" cy="282.8" rx="28.2" ry="14.1" fill="#8a8a8a"/><ellipse cx="466.0" cy="296.9" rx="14.1" ry="23.5" fill="#8a8a8a"/><ellipse cx="381.5" cy="326.9" rx="51.6" ry="23.5" fill="#878787"/><ellipse cx="423.8" cy="280.0" rx="14.1" ry="5.6" fill="#adadad"/><ellipse cx="386.2" cy="287.5" rx="14.1" ry="5.6" fill="#adadad"/><ellipse cx="372.1" cy="318.5" rx="20.7" ry="8.4" fill="#c8c8c8"/><ellipse cx="372.1" cy="339.1" rx="23.5" ry="6.6" fill="#b6b6b6"/><ellipse cx="409.7" cy="336.3" rx="14.1" ry="6.6" fill="#b6b6b6"/><ellipse cx="344.0" cy="326.9" rx="11.3" ry="5.6" fill="#adadad"/><ellipse cx="374.0" cy="374.8" rx="18.8" ry="14.1" fill="#c8c8c8"/></g></g></g></g></g><filter id="f3_1" filterUnits="userSpaceOnUse" x="0" y="0" width="663" height="417" color-interpolation-filters="sRGB"><feGaussianBlur in="SourceGraphic" stdDeviation="4.0" result="b"/><feTurbulence type="fractalNoise" baseFrequency="0.050" numOctaves="2" seed="24" result="t1"/><feColorMatrix in="t1" type="matrix" values="1 0 0 0 0 1 0 0 0 0 1 0 0 0 0 0 0 0 0 1" result="n1"/><feComposite in="b" in2="n1" operator="arithmetic" k1="0.7000" k2="0.6500" k3="0" k4="0" result="s1"/><feTurbulence type="fractalNoise" baseFrequency="0.400" numOctaves="1" seed="26" result="t2"/><feColorMatrix in="t2" type="matrix" values="0 1 0 0 0 0 1 0 0 0 0 1 0 0 0 0 0 0 0 1" result="n2"/><feComposite in="s1" in2="n2" operator="arithmetic" k1="1.3000" k2="0.3500" k3="0.0929" k4="-0.0464" result="s2"/><feFlood x="1" y="1" width="1" height="1" flood-color="#fff" result="dot"/><feComposite in="dot" in2="dot" operator="over" x="0" y="0" width="3" height="3" result="cell"/><feTile in="cell" result="grid"/><feComposite in="s2" in2="grid" operator="in" result="sm"/><feMorphology in="sm" operator="dilate" radius="1" result="pix"/><feComponentTransfer in="pix"><feFuncR type="discrete" tableValues="0.467 0.467 0.000 0.039 0.439 0.439 0.600 1.000 0.941 0.910 0.600 0.600 0.600 0.600"/><feFuncG type="discrete" tableValues="0.200 0.200 0.251 0.518 1.000 1.000 1.000 1.000 0.502 0.020 0.000 0.000 0.000 0.000"/><feFuncB type="discrete" tableValues="1.000 1.000 1.000 1.000 1.000 0.439 0.000 0.000 0.000 0.020 0.000 0.000 0.000 0.000"/></feComponentTransfer></filter><clipPath id="c3_1"><path d="M76.4,207.8 L189.1,207.8 L283.0,212.5 L320.5,221.9 L306.4,231.2 L315.8,245.3 L301.7,259.4 L311.1,273.5 L287.7,282.8 L292.3,296.9 L273.6,306.3 L264.2,320.4 L76.4,320.4Z"/></clipPath><g clip-path="url(#clip)"><g clip-path="url(#c3_1)"><g transform="translate(0.50,0.00)"><g filter="url(#f3_1)"><g transform="translate(-0.50,-0.00)"><rect x="-20" y="-20" width="700.6" height="454.3" fill="#121212"/><path d="M156.2,311.0 L135.6,278.2 L146.8,251.9 L170.3,233.1 L226.6,221.9 L273.6,212.5 L320.5,195.6 L358.1,176.8 L395.6,160.9 L423.8,140.2 L447.2,118.6 L461.3,85.8 L480.1,38.9 L630.3,38.9 L630.3,404.8 L156.2,404.8Z" fill="#2f2f2f"/><path d="M90.5,268.8 L95.2,226.5 L151.5,213.4 L226.6,215.3 L283.0,226.5 L320.5,235.9 L320.5,292.2 L254.8,301.6 L170.3,301.6 L114.0,282.8Z" fill="#5b5b5b"/><ellipse cx="198.5" cy="245.3" rx="84.5" ry="28.1" fill="#767676"/><ellipse cx="254.8" cy="245.3" rx="46.9" ry="20.6" fill="#7c7c7c"/><ellipse cx="132.8" cy="250.0" rx="28.2" ry="18.8" fill="#6d6d6d"/><ellipse cx="189.1" cy="254.7" rx="56.3" ry="24.4" fill="#9b9b9b"/><ellipse cx="193.8" cy="259.4" rx="43.2" ry="20.6" fill="#e4e4e4"/><ellipse cx="160.9" cy="250.0" rx="18.8" ry="11.3" fill="#b6b6b6"/><ellipse cx="221.9" cy="240.6" rx="18.8" ry="7.5" fill="#b6b6b6"/><ellipse cx="273.6" cy="271.6" rx="31.0" ry="6.6" fill="#c8c8c8" transform="rotate(-8 273.6 271.6)"/><ellipse cx="236.0" cy="245.3" rx="28.2" ry="9.4" fill="#9b9b9b"/><ellipse cx="104.6" cy="240.6" rx="14.1" ry="18.8" fill="#333333"/></g></g></g></g></g><path d="M208.2,295.6 L218.9,287.3 L230.1,281.7 L238.0,279.2 L245.9,277.1 L250.8,280.2 L252.1,287.5 L241.2,288.7 L225.3,300.2 L209.4,300.2Z" fill="#fff"/><ellipse cx="86" cy="221" rx="7.5" ry="6" fill="#fff"/><g fill="none" stroke="#000" stroke-width="4.3" stroke-linejoin="round"><use href="#cn"/><use href="#hn"/></g><use href="#tw" fill="#fff" stroke="#000" stroke-width="3.6" stroke-linejoin="round"/><use href="#mk"/></g><path d="M95.2,3V414.3M189.1,3V414.3M283.0,3V414.3M376.8,3V414.3M470.7,3V414.3M564.6,3V414.3M3,367.3H660.6M3,273.5H660.6M3,179.6H660.6M3,85.8H660.6" fill="none" stroke="#000" stroke-width="1.7" stroke-dasharray="1.7 6.15"/><path d="M2,2.6H660.6" fill="none" stroke="#000" stroke-width="1.6" stroke-dasharray="1.6 2.3"/><rect x="578.4" y="302.0" width="82.2" height="112.3" fill="#fdfdfd"/><path d="M578.4,414.3V300.5" stroke="#000" stroke-width="2.2" fill="none"/><path d="M577.3,302.0H660.6" stroke="#000" stroke-width="3.2" fill="none"/><path d="M658.4,302.0V414.3" stroke="#000" stroke-width="5.5" fill="none"/><path d="M578.4,412.1H660.6" stroke="#000" stroke-width="5.5" fill="none"/><g fill="#111"><rect x="586.4" y="314.0" width="2.8" height="1.8"/><rect x="588.4" y="316.0" width="1.8" height="1.8"/><rect x="590.4" y="318.0" width="1.8" height="1.8"/><rect x="592.4" y="321.0" width="5.8" height="2.8"/><rect x="593.4" y="319.0" width="3.8" height="2.8"/><rect x="594.4" y="316.0" width="2.8" height="1.8"/><rect x="596.4" y="314.0" width="1.8" height="1.8"/><rect x="597.4" y="312.0" width="1.8" height="1.8"/><rect x="602.4" y="314.0" width="1.8" height="1.8"/><rect x="606.4" y="314.0" width="3.8" height="1.8"/><rect x="609.4" y="312.0" width="4.8" height="2.8"/><rect x="614.4" y="310.0" width="5.8" height="1.8"/><rect x="625.4" y="308.0" width="1.8" height="1.8"/><rect x="628.4" y="306.0" width="3.8" height="1.8"/><rect x="639.4" y="306.0" width="4.8" height="2.8"/><rect x="647.4" y="312.0" width="1.8" height="1.8"/><rect x="651.4" y="310.0" width="1.8" height="1.8"/><rect x="651.4" y="316.0" width="1.8" height="1.8"/><rect x="588.4" y="324.0" width="1.8" height="1.8"/><rect x="586.4" y="330.0" width="1.8" height="1.8"/><rect x="594.4" y="330.0" width="1.8" height="1.8"/><rect x="600.4" y="335.0" width="1.8" height="1.8"/><rect x="600.4" y="339.0" width="4.8" height="1.8"/><rect x="603.4" y="337.0" width="3.8" height="1.8"/><rect x="611.4" y="343.0" width="3.8" height="1.8"/><rect x="615.4" y="340.0" width="2.8" height="2.8"/><rect x="594.4" y="361.0" width="1.8" height="1.8"/><rect x="637.4" y="361.0" width="1.8" height="1.8"/><rect x="615.4" y="365.0" width="1.8" height="4.8"/><rect x="615.4" y="364.0" width="4.8" height="1.8"/><rect x="621.4" y="365.0" width="1.8" height="2.8"/><rect x="627.4" y="363.0" width="2.8" height="2.8"/><rect x="608.4" y="370.0" width="1.8" height="1.8"/><rect x="612.4" y="372.0" width="1.8" height="1.8"/><rect x="623.4" y="370.0" width="1.8" height="1.8"/><rect x="602.4" y="375.0" width="1.8" height="1.8"/><rect x="594.4" y="376.0" width="1.8" height="2.8"/><rect x="592.4" y="379.0" width="1.8" height="2.8"/><rect x="600.4" y="380.0" width="1.8" height="1.8"/><rect x="608.4" y="378.0" width="1.8" height="1.8"/><rect x="612.4" y="380.0" width="1.8" height="1.8"/><rect x="621.4" y="380.0" width="1.8" height="1.8"/><rect x="606.4" y="390.0" width="1.8" height="1.8"/><rect x="604.4" y="398.0" width="3.8" height="1.8"/></g><rect x="0" y="0" width="660.6" height="414.3" fill="none" stroke="#000" stroke-width="1.9"/><path d="M0.0,0v-8M0.0,414.3v8.5M95.2,0v-8M95.2,414.3v8.5M189.1,0v-8M189.1,414.3v8.5M283.0,0v-8M283.0,414.3v8.5M376.8,0v-8M376.8,414.3v8.5M470.7,0v-8M470.7,414.3v8.5M564.6,0v-8M564.6,414.3v8.5M660.6,0v-8M660.6,414.3v8.5M0,367.3h-8M660.6,367.3h6M0,273.5h-8M660.6,273.5h6M0,179.6h-8M660.6,179.6h6M0,85.8h-8M660.6,85.8h6M0,415.8h-8M660.6,415.8h6" fill="none" stroke="#000" stroke-width="1.7"/><text x="-14.5" y="382.9" font-size="43" text-anchor="end">20</text><text x="-14.5" y="289.1" font-size="43" text-anchor="end">30</text><text x="-14.5" y="195.2" font-size="43" text-anchor="end">40</text><text x="-14.5" y="101.4" font-size="43" text-anchor="end">50</text><text transform="translate(-87.5,219.6) rotate(-90)" x="-19.5" y="0" font-size="55"><tspan font-size="51" dy="-1.7" fill="#333">°</tspan><tspan dy="1.7" dx="-0.9">N</tspan></text><text x="17.8" y="44.1" font-size="46.4">d)GPM-CDF</text><text x="7.5" y="400.4" font-size="43">33.97%</text><text x="-1.9" y="469.3" font-size="43" text-anchor="middle">70</text><text x="187.6" y="469.3" font-size="43" text-anchor="middle">90</text><text x="375.3" y="469.3" font-size="43" text-anchor="middle">110</text><text x="563.1" y="469.3" font-size="43" text-anchor="middle">130</text><text x="298.1" y="522.2" font-size="55"><tspan font-size="51" dy="-1.7" fill="#333">°</tspan><tspan dy="1.7" dx="0.3">E</tspan></text></g>
<g transform="translate(982.4,25.4)"><g transform="translate(-0.7,0)"><filter id="f4_0" filterUnits="userSpaceOnUse" x="0" y="0" width="662" height="417" color-interpolation-filters="sRGB"><feGaussianBlur in="SourceGraphic" stdDeviation="3.0" result="b"/><feTurbulence type="fractalNoise" baseFrequency="0.050" numOctaves="2" seed="31" result="t1"/><feColorMatrix in="t1" type="matrix" values="1 0 0 0 0 1 0 0 0 0 1 0 0 0 0 0 0 0 0 1" result="n1"/><feComposite in="b" in2="n1" operator="arithmetic" k1="0.5500" k2="0.7250" k3="0" k4="0" result="s1"/><feTurbulence type="fractalNoise" baseFrequency="0.400" numOctaves="1" seed="31" result="t2"/><feColorMatrix in="t2" type="matrix" values="0 1 0 0 0 0 1 0 0 0 0 1 0 0 0 0 0 0 0 1" result="n2"/><feComposite in="s1" in2="n2" operator="arithmetic" k1="0.6000" k2="0.7000" k3="0.0929" k4="-0.0464" result="s2"/><feFlood x="1" y="1" width="1" height="1" flood-color="#fff" result="dot"/><feComposite in="dot" in2="dot" operator="over" x="0" y="0" width="3" height="3" result="cell"/><feTile in="cell" result="grid"/><feComposite in="s2" in2="grid" operator="in" result="sm"/><feMorphology in="sm" operator="dilate" radius="1" result="pix"/><feComponentTransfer in="pix"><feFuncR type="discrete" tableValues="0.467 0.467 0.000 0.039 0.439 0.439 0.600 1.000 0.941 0.910 0.600 0.600 0.600 0.600"/><feFuncG type="discrete" tableValues="0.200 0.200 0.251 0.518 1.000 1.000 1.000 1.000 0.502 0.020 0.000 0.000 0.000 0.000"/><feFuncB type="discrete" tableValues="1.000 1.000 1.000 1.000 1.000 0.439 0.000 0.000 0.000 0.020 0.000 0.000 0.000 0.000"/></feComponentTransfer></filter><g clip-path="url(#clip)"><g><g transform="translate(0.30,-0.40)"><g filter="url(#f4_0)"><g transform="translate(-0.30,0.40)"><rect x="-20" y="-20" width="699.2" height="454.9" fill="#121212"/><path d="M156.2,311.0 L135.6,278.2 L146.8,251.9 L170.3,233.1 L226.6,221.9 L273.6,212.5 L320.5,195.6 L358.1,176.8 L395.6,160.9 L423.8,140.2 L447.2,118.6 L461.3,85.8 L480.1,38.9 L630.3,38.9 L630.3,404.8 L156.2,404.8Z" fill="#2e2e2e"/><ellipse cx="123.4" cy="137.4" rx="42.2" ry="23.5" fill="#2a2a2a"/><ellipse cx="76.4" cy="174.9" rx="18.8" ry="9.4" fill="#2c2c2c"/><ellipse cx="90.5" cy="173.1" rx="9.4" ry="3.8" fill="#404040"/><ellipse cx="189.1" cy="254.7" rx="75.1" ry="30.0" fill="#2e2e2e"/><ellipse cx="207.9" cy="259.4" rx="28.2" ry="14.1" fill="#3e3e3e"/><ellipse cx="207.9" cy="254.7" rx="7.5" ry="4.7" fill="#767676"/><ellipse cx="367.5" cy="148.7" rx="56.3" ry="11.3" fill="#181818"/><ellipse cx="311.1" cy="174.9" rx="28.2" ry="14.1" fill="#191919"/><path d="M461.3,165.6 L480.1,142.1 L466.0,113.9 L480.1,85.8 L489.5,48.3 L536.4,67.0 L574.0,95.2 L620.9,95.2 L620.9,123.3 L574.0,160.9 L527.0,179.6 L489.5,184.3Z" fill="#3a3a3a"/><ellipse cx="541.1" cy="128.0" rx="42.2" ry="28.1" fill="#494949"/><ellipse cx="484.8" cy="76.4" rx="23.5" ry="23.5" fill="#2e2e2e"/><ellipse cx="564.6" cy="104.6" rx="18.8" ry="9.4" fill="#4c4c4c"/><path d="M320.5,273.5 L329.9,235.9 L358.1,212.5 L395.6,193.7 L433.2,174.9 L470.7,164.6 L508.3,170.2 L508.3,273.5Z" fill="#3a3a3a"/><ellipse cx="395.6" cy="198.4" rx="37.6" ry="16.9" fill="#454545"/><ellipse cx="297.0" cy="203.1" rx="23.5" ry="7.5" fill="#424242"/><ellipse cx="461.3" cy="217.2" rx="23.5" ry="23.5" fill="#494949"/><path d="M268.9,367.3 L273.6,325.1 L287.7,301.6 L304.6,273.5 L323.3,254.7 L358.1,240.6 L423.8,233.1 L498.9,233.1 L508.3,301.6 L461.3,367.3 L358.1,376.7Z" fill="#545454"/><ellipse cx="297.0" cy="315.7" rx="18.8" ry="26.3" fill="#454545"/><ellipse cx="325.2" cy="292.2" rx="14.1" ry="23.5" fill="#494949"/><ellipse cx="405.0" cy="294.1" rx="79.8" ry="46.0" fill="#6a6a6a"/><ellipse cx="400.3" cy="296.9" rx="61.0" ry="33.8" fill="#737373"/><ellipse cx="451.9" cy="301.6" rx="28.2" ry="35.7" fill="#757575"/><ellipse cx="353.4" cy="329.8" rx="28.2" ry="14.1" fill="#6d6d6d"/><ellipse cx="376.8" cy="315.7" rx="18.8" ry="11.3" fill="#898989"/><ellipse cx="375.0" cy="315.7" rx="9.4" ry="3.8" fill="#adadad"/><ellipse cx="412.5" cy="332.6" rx="7.5" ry="7.5" fill="#b3b3b3"/><ellipse cx="395.6" cy="339.1" rx="14.1" ry="7.5" fill="#898989"/><ellipse cx="374.0" cy="374.8" rx="18.8" ry="14.1" fill="#767676"/></g></g></g></g></g><path d="M208.2,295.6 L218.9,287.3 L230.1,281.7 L238.0,279.2 L245.9,277.1 L250.8,280.2 L252.1,287.5 L241.2,288.7 L225.3,300.2 L209.4,300.2Z" fill="#fff"/><ellipse cx="86" cy="221" rx="7.5" ry="6" fill="#fff"/><ellipse cx="191.0" cy="174.0" rx="6.0" ry="3.0" fill="#fff"/><ellipse cx="341.2" cy="203.1" rx="4.5" ry="3.5" fill="#fff"/><ellipse cx="284.8" cy="205.9" rx="3.0" ry="2.0" fill="#fff"/><ellipse cx="366.5" cy="229.4" rx="2.5" ry="2.0" fill="#fff"/><ellipse cx="441.6" cy="209.7" rx="2.0" ry="3.0" fill="#fff"/><g fill="none" stroke="#000" stroke-width="4.3" stroke-linejoin="round"><use href="#cn"/><use href="#hn"/></g><use href="#tw" fill="#fff" stroke="#000" stroke-width="3.6" stroke-linejoin="round"/><use href="#mk"/></g><path d="M93.7,3V414.9M188.0,3V414.9M282.3,3V414.9M376.6,3V414.9M470.9,3V414.9M565.2,3V414.9M3,367.3H659.2M3,273.5H659.2M3,179.6H659.2M3,85.8H659.2" fill="none" stroke="#000" stroke-width="1.7" stroke-dasharray="1.7 6.15"/><path d="M2,2.6H659.2" fill="none" stroke="#000" stroke-width="1.6" stroke-dasharray="1.6 2.3"/><rect x="576.6" y="302.0" width="82.6" height="112.9" fill="#fdfdfd"/><path d="M576.6,414.9V300.5" stroke="#000" stroke-width="2.2" fill="none"/><path d="M575.5,302.0H659.2" stroke="#000" stroke-width="3.2" fill="none"/><path d="M658.0,302.0V414.9" stroke="#000" stroke-width="3.6" fill="none"/><path d="M576.6,412.7H659.2" stroke="#000" stroke-width="5.5" fill="none"/><g fill="#111"><rect x="584.6" y="314.0" width="2.8" height="1.8"/><rect x="586.6" y="316.0" width="1.8" height="1.8"/><rect x="588.6" y="318.0" width="1.8" height="1.8"/><rect x="590.6" y="321.0" width="5.8" height="2.8"/><rect x="591.6" y="319.0" width="3.8" height="2.8"/><rect x="592.6" y="316.0" width="2.8" height="1.8"/><rect x="594.6" y="314.0" width="1.8" height="1.8"/><rect x="595.6" y="312.0" width="1.8" height="1.8"/><rect x="600.6" y="314.0" width="1.8" height="1.8"/><rect x="604.6" y="314.0" width="3.8" height="1.8"/><rect x="607.6" y="312.0" width="4.8" height="2.8"/><rect x="612.6" y="310.0" width="5.8" height="1.8"/><rect x="623.6" y="308.0" width="1.8" height="1.8"/><rect x="626.6" y="306.0" width="3.8" height="1.8"/><rect x="637.6" y="306.0" width="4.8" height="2.8"/><rect x="645.6" y="312.0" width="1.8" height="1.8"/><rect x="649.6" y="310.0" width="1.8" height="1.8"/><rect x="649.6" y="316.0" width="1.8" height="1.8"/><rect x="586.6" y="324.0" width="1.8" height="1.8"/><rect x="584.6" y="330.0" width="1.8" height="1.8"/><rect x="592.6" y="330.0" width="1.8" height="1.8"/><rect x="598.6" y="335.0" width="1.8" height="1.8"/><rect x="598.6" y="339.0" width="4.8" height="1.8"/><rect x="601.6" y="337.0" width="3.8" height="1.8"/><rect x="609.6" y="343.0" width="3.8" height="1.8"/><rect x="613.6" y="340.0" width="2.8" height="2.8"/><rect x="592.6" y="361.0" width="1.8" height="1.8"/><rect x="635.6" y="361.0" width="1.8" height="1.8"/><rect x="613.6" y="365.0" width="1.8" height="4.8"/><rect x="613.6" y="364.0" width="4.8" height="1.8"/><rect x="619.6" y="365.0" width="1.8" height="2.8"/><rect x="625.6" y="363.0" width="2.8" height="2.8"/><rect x="606.6" y="370.0" width="1.8" height="1.8"/><rect x="610.6" y="372.0" width="1.8" height="1.8"/><rect x="621.6" y="370.0" width="1.8" height="1.8"/><rect x="600.6" y="375.0" width="1.8" height="1.8"/><rect x="592.6" y="376.0" width="1.8" height="2.8"/><rect x="590.6" y="379.0" width="1.8" height="2.8"/><rect x="598.6" y="380.0" width="1.8" height="1.8"/><rect x="606.6" y="378.0" width="1.8" height="1.8"/><rect x="610.6" y="380.0" width="1.8" height="1.8"/><rect x="619.6" y="380.0" width="1.8" height="1.8"/><rect x="604.6" y="390.0" width="1.8" height="1.8"/><rect x="602.6" y="398.0" width="3.8" height="1.8"/></g><rect x="0" y="0" width="659.2" height="414.9" fill="none" stroke="#000" stroke-width="1.9"/><path d="M0.0,0v-8M0.0,414.9v8.5M93.7,0v-8M93.7,414.9v8.5M188.0,0v-8M188.0,414.9v8.5M282.3,0v-8M282.3,414.9v8.5M376.6,0v-8M376.6,414.9v8.5M470.9,0v-8M470.9,414.9v8.5M565.2,0v-8M565.2,414.9v8.5M659.2,0v-8M659.2,414.9v8.5M0,367.3h-8M659.2,367.3h6M0,273.5h-8M659.2,273.5h6M0,179.6h-8M659.2,179.6h6M0,85.8h-8M659.2,85.8h6M0,416.4h-8M659.2,416.4h6" fill="none" stroke="#000" stroke-width="1.7"/><text x="15.7" y="44.1" font-size="46.4">e)SMP</text><text x="8.3" y="401.0" font-size="43">62.34%</text></g>
<g transform="translate(982.4,457.7)"><g transform="translate(-0.7,0)"><filter id="f5_0" filterUnits="userSpaceOnUse" x="0" y="0" width="662" height="417" color-interpolation-filters="sRGB"><feGaussianBlur in="SourceGraphic" stdDeviation="3.0" result="b"/><feTurbulence type="fractalNoise" baseFrequency="0.050" numOctaves="2" seed="38" result="t1"/><feColorMatrix in="t1" type="matrix" values="1 0 0 0 0 1 0 0 0 0 1 0 0 0 0 0 0 0 0 1" result="n1"/><feComposite in="b" in2="n1" operator="arithmetic" k1="0.5500" k2="0.7250" k3="0" k4="0" result="s1"/><feTurbulence type="fractalNoise" baseFrequency="0.400" numOctaves="1" seed="36" result="t2"/><feColorMatrix in="t2" type="matrix" values="0 1 0 0 0 0 1 0 0 0 0 1 0 0 0 0 0 0 0 1" result="n2"/><feComposite in="s1" in2="n2" operator="arithmetic" k1="0.6000" k2="0.7000" k3="0.0929" k4="-0.0464" result="s2"/><feFlood x="1" y="1" width="1" height="1" flood-color="#fff" result="dot"/><feComposite in="dot" in2="dot" operator="over" x="0" y="0" width="3" height="3" result="cell"/><feTile in="cell" result="grid"/><feComposite in="s2" in2="grid" operator="in" result="sm"/><feMorphology in="sm" operator="dilate" radius="1" result="pix"/><feComponentTransfer in="pix"><feFuncR type="discrete" tableValues="0.467 0.467 0.000 0.039 0.439 0.439 0.600 1.000 0.941 0.910 0.600 0.600 0.600 0.600"/><feFuncG type="discrete" tableValues="0.200 0.200 0.251 0.518 1.000 1.000 1.000 1.000 0.502 0.020 0.000 0.000 0.000 0.000"/><feFuncB type="discrete" tableValues="1.000 1.000 1.000 1.000 1.000 0.439 0.000 0.000 0.000 0.020 0.000 0.000 0.000 0.000"/></feComponentTransfer></filter><g clip-path="url(#clip)"><g><g transform="translate(0.30,0.30)"><g filter="url(#f5_0)"><g transform="translate(-0.30,-0.30)"><rect x="-20" y="-20" width="699.2" height="454.7" fill="#2e2e2e"/><path d="M245.4,170.2 L320.5,184.3 L358.1,165.6 L395.6,151.5 L423.8,132.7 L442.6,109.3 L480.1,104.6 L484.8,85.8 L433.2,81.1 L245.4,85.8Z" fill="#161616"/><ellipse cx="320.5" cy="193.7" rx="28.2" ry="11.3" fill="#1d1d1d"/><ellipse cx="480.1" cy="57.7" rx="18.8" ry="11.3" fill="#242424"/><ellipse cx="527.0" cy="132.7" rx="46.9" ry="32.8" fill="#3a3a3a"/><ellipse cx="541.1" cy="146.8" rx="28.2" ry="18.8" fill="#494949"/><ellipse cx="569.3" cy="113.9" rx="18.8" ry="11.3" fill="#424242"/><path d="M320.5,273.5 L329.9,235.9 L358.1,212.5 L395.6,193.7 L433.2,174.9 L470.7,164.6 L508.3,170.2 L508.3,273.5Z" fill="#373737"/><ellipse cx="409.7" cy="203.1" rx="37.6" ry="20.6" fill="#424242"/><path d="M268.9,367.3 L273.6,325.1 L287.7,301.6 L304.6,273.5 L323.3,254.7 L358.1,240.6 L423.8,233.1 L498.9,233.1 L508.3,301.6 L461.3,367.3 L358.1,376.7Z" fill="#505050"/><ellipse cx="297.0" cy="315.7" rx="18.8" ry="26.3" fill="#454545"/><ellipse cx="339.3" cy="296.9" rx="23.5" ry="23.5" fill="#474747"/><ellipse cx="433.2" cy="301.6" rx="14.1" ry="11.3" fill="#494949"/><ellipse cx="405.0" cy="294.1" rx="79.8" ry="45.0" fill="#6a6a6a"/><ellipse cx="400.3" cy="292.2" rx="61.0" ry="32.8" fill="#757575"/><ellipse cx="456.6" cy="301.6" rx="26.3" ry="35.7" fill="#767676"/><ellipse cx="353.4" cy="329.8" rx="32.9" ry="15.0" fill="#717171"/><ellipse cx="376.8" cy="317.6" rx="20.7" ry="11.3" fill="#8a8a8a"/><ellipse cx="374.0" cy="316.6" rx="11.3" ry="3.8" fill="#b6b6b6"/><ellipse cx="414.4" cy="331.6" rx="7.5" ry="7.5" fill="#b6b6b6"/><ellipse cx="400.3" cy="339.1" rx="14.1" ry="7.5" fill="#8a8a8a"/><ellipse cx="374.0" cy="374.8" rx="18.8" ry="14.1" fill="#808080"/></g></g></g></g></g><filter id="f5_1" filterUnits="userSpaceOnUse" x="0" y="0" width="662" height="417" color-interpolation-filters="sRGB"><feGaussianBlur in="SourceGraphic" stdDeviation="3.0" result="b"/><feTurbulence type="fractalNoise" baseFrequency="0.050" numOctaves="2" seed="38" result="t1"/><feColorMatrix in="t1" type="matrix" values="1 0 0 0 0 1 0 0 0 0 1 0 0 0 0 0 0 0 0 1" result="n1"/><feComposite in="b" in2="n1" operator="arithmetic" k1="0.5500" k2="0.7250" k3="0" k4="0" result="s1"/><feTurbulence type="fractalNoise" baseFrequency="0.400" numOctaves="1" seed="36" result="t2"/><feColorMatrix in="t2" type="matrix" values="0 1 0 0 0 0 1 0 0 0 0 1 0 0 0 0 0 0 0 1" result="n2"/><feComposite in="s1" in2="n2" operator="arithmetic" k1="0.6000" k2="0.7000" k3="0.0929" k4="-0.0464" result="s2"/><feFlood x="1" y="1" width="1" height="1" flood-color="#fff" result="dot"/><feComposite in="dot" in2="dot" operator="over" x="0" y="0" width="3" height="3" result="cell"/><feTile in="cell" result="grid"/><feComposite in="s2" in2="grid" operator="in" result="sm"/><feMorphology in="sm" operator="dilate" radius="1" result="pix"/><feComponentTransfer in="pix"><feFuncR type="discrete" tableValues="0.467 0.467 0.000 0.039 0.439 0.439 0.600 1.000 0.941 0.910 0.600 0.600 0.600 0.600"/><feFuncG type="discrete" tableValues="0.200 0.200 0.251 0.518 1.000 1.000 1.000 1.000 0.502 0.020 0.000 0.000 0.000 0.000"/><feFuncB type="discrete" tableValues="1.000 1.000 1.000 1.000 1.000 0.439 0.000 0.000 0.000 0.020 0.000 0.000 0.000 0.000"/></feComponentTransfer></filter><clipPath id="c5_1"><rect x="-92.6" y="-8.0" width="353.0" height="469.1"/></clipPath><g clip-path="url(#clip)"><g clip-path="url(#c5_1)"><g transform="translate(0.30,0.30)"><g filter="url(#f5_1)"><g transform="translate(-0.30,-0.30)"><rect x="-20" y="-20" width="699.2" height="454.7" fill="#121212"/><ellipse cx="132.8" cy="144.0" rx="32.9" ry="5.6" fill="#2c2c2c"/><ellipse cx="203.2" cy="261.3" rx="75.1" ry="26.3" fill="#2e2e2e"/><ellipse cx="207.9" cy="259.4" rx="23.5" ry="5.6" fill="#3c3c3c"/></g></g></g></g></g><path d="M208.2,295.6 L218.9,287.3 L230.1,281.7 L238.0,279.2 L245.9,277.1 L250.8,280.2 L252.1,287.5 L241.2,288.7 L225.3,300.2 L209.4,300.2Z" fill="#fff"/><ellipse cx="86" cy="221" rx="7.5" ry="6" fill="#fff"/><ellipse cx="341.2" cy="203.1" rx="4.5" ry="3.5" fill="#fff"/><g fill="none" stroke="#000" stroke-width="4.3" stroke-linejoin="round"><use href="#cn"/><use href="#hn"/></g><use href="#tw" fill="#fff" stroke="#000" stroke-width="3.6" stroke-linejoin="round"/><use href="#mk"/></g><path d="M93.7,3V414.7M188.0,3V414.7M282.3,3V414.7M376.6,3V414.7M470.9,3V414.7M565.2,3V414.7M3,367.3H659.2M3,273.5H659.2M3,179.6H659.2M3,85.8H659.2" fill="none" stroke="#000" stroke-width="1.7" stroke-dasharray="1.7 6.15"/><path d="M2,2.6H659.2" fill="none" stroke="#000" stroke-width="1.6" stroke-dasharray="1.6 2.3"/><rect x="576.6" y="302.0" width="82.6" height="112.7" fill="#fdfdfd"/><path d="M576.6,414.7V300.5" stroke="#000" stroke-width="2.2" fill="none"/><path d="M575.5,302.0H659.2" stroke="#000" stroke-width="3.2" fill="none"/><path d="M658.0,302.0V414.7" stroke="#000" stroke-width="3.6" fill="none"/><path d="M576.6,412.5H659.2" stroke="#000" stroke-width="5.5" fill="none"/><g fill="#111"><rect x="584.6" y="314.0" width="2.8" height="1.8"/><rect x="586.6" y="316.0" width="1.8" height="1.8"/><rect x="588.6" y="318.0" width="1.8" height="1.8"/><rect x="590.6" y="321.0" width="5.8" height="2.8"/><rect x="591.6" y="319.0" width="3.8" height="2.8"/><rect x="592.6" y="316.0" width="2.8" height="1.8"/><rect x="594.6" y="314.0" width="1.8" height="1.8"/><rect x="595.6" y="312.0" width="1.8" height="1.8"/><rect x="600.6" y="314.0" width="1.8" height="1.8"/><rect x="604.6" y="314.0" width="3.8" height="1.8"/><rect x="607.6" y="312.0" width="4.8" height="2.8"/><rect x="612.6" y="310.0" width="5.8" height="1.8"/><rect x="623.6" y="308.0" width="1.8" height="1.8"/><rect x="626.6" y="306.0" width="3.8" height="1.8"/><rect x="637.6" y="306.0" width="4.8" height="2.8"/><rect x="645.6" y="312.0" width="1.8" height="1.8"/><rect x="649.6" y="310.0" width="1.8" height="1.8"/><rect x="649.6" y="316.0" width="1.8" height="1.8"/><rect x="586.6" y="324.0" width="1.8" height="1.8"/><rect x="584.6" y="330.0" width="1.8" height="1.8"/><rect x="592.6" y="330.0" width="1.8" height="1.8"/><rect x="598.6" y="335.0" width="1.8" height="1.8"/><rect x="598.6" y="339.0" width="4.8" height="1.8"/><rect x="601.6" y="337.0" width="3.8" height="1.8"/><rect x="609.6" y="343.0" width="3.8" height="1.8"/><rect x="613.6" y="340.0" width="2.8" height="2.8"/><rect x="592.6" y="361.0" width="1.8" height="1.8"/><rect x="635.6" y="361.0" width="1.8" height="1.8"/><rect x="613.6" y="365.0" width="1.8" height="4.8"/><rect x="613.6" y="364.0" width="4.8" height="1.8"/><rect x="619.6" y="365.0" width="1.8" height="2.8"/><rect x="625.6" y="363.0" width="2.8" height="2.8"/><rect x="606.6" y="370.0" width="1.8" height="1.8"/><rect x="610.6" y="372.0" width="1.8" height="1.8"/><rect x="621.6" y="370.0" width="1.8" height="1.8"/><rect x="600.6" y="375.0" width="1.8" height="1.8"/><rect x="592.6" y="376.0" width="1.8" height="2.8"/><rect x="590.6" y="379.0" width="1.8" height="2.8"/><rect x="598.6" y="380.0" width="1.8" height="1.8"/><rect x="606.6" y="378.0" width="1.8" height="1.8"/><rect x="610.6" y="380.0" width="1.8" height="1.8"/><rect x="619.6" y="380.0" width="1.8" height="1.8"/><rect x="604.6" y="390.0" width="1.8" height="1.8"/><rect x="602.6" y="398.0" width="3.8" height="1.8"/></g><rect x="0" y="0" width="659.2" height="414.7" fill="none" stroke="#000" stroke-width="1.9"/><path d="M0.0,0v-8M0.0,414.7v8.5M93.7,0v-8M93.7,414.7v8.5M188.0,0v-8M188.0,414.7v8.5M282.3,0v-8M282.3,414.7v8.5M376.6,0v-8M376.6,414.7v8.5M470.9,0v-8M470.9,414.7v8.5M565.2,0v-8M565.2,414.7v8.5M659.2,0v-8M659.2,414.7v8.5M0,367.3h-8M659.2,367.3h6M0,273.5h-8M659.2,273.5h6M0,179.6h-8M659.2,179.6h6M0,85.8h-8M659.2,85.8h6M0,416.2h-8M659.2,416.2h6" fill="none" stroke="#000" stroke-width="1.7"/><text x="15.7" y="44.1" font-size="46.4">f)SMP-Linear</text><text x="8.3" y="400.8" font-size="43">73.69%</text></g>
<g transform="translate(982.4,892.4)"><g transform="translate(-0.7,0)"><filter id="f6_0" filterUnits="userSpaceOnUse" x="0" y="0" width="662" height="415" color-interpolation-filters="sRGB"><feGaussianBlur in="SourceGraphic" stdDeviation="3.0" result="b"/><feTurbulence type="fractalNoise" baseFrequency="0.050" numOctaves="2" seed="45" result="t1"/><feColorMatrix in="t1" type="matrix" values="1 0 0 0 0 1 0 0 0 0 1 0 0 0 0 0 0 0 0 1" result="n1"/><feComposite in="b" in2="n1" operator="arithmetic" k1="0.5500" k2="0.7250" k3="0" k4="0" result="s1"/><feTurbulence type="fractalNoise" baseFrequency="0.400" numOctaves="1" seed="41" result="t2"/><feColorMatrix in="t2" type="matrix" values="0 1 0 0 0 0 1 0 0 0 0 1 0 0 0 0 0 0 0 1" result="n2"/><feComposite in="s1" in2="n2" operator="arithmetic" k1="0.6000" k2="0.7000" k3="0.0929" k4="-0.0464" result="s2"/><feFlood x="1" y="1" width="1" height="1" flood-color="#fff" result="dot"/><feComposite in="dot" in2="dot" operator="over" x="0" y="0" width="3" height="3" result="cell"/><feTile in="cell" result="grid"/><feComposite in="s2" in2="grid" operator="in" result="sm"/><feMorphology in="sm" operator="dilate" radius="1" result="pix"/><feComponentTransfer in="pix"><feFuncR type="discrete" tableValues="0.467 0.467 0.000 0.039 0.439 0.439 0.600 1.000 0.941 0.910 0.600 0.600 0.600 0.600"/><feFuncG type="discrete" tableValues="0.200 0.200 0.251 0.518 1.000 1.000 1.000 1.000 0.502 0.020 0.000 0.000 0.000 0.000"/><feFuncB type="discrete" tableValues="1.000 1.000 1.000 1.000 1.000 0.439 0.000 0.000 0.000 0.020 0.000 0.000 0.000 0.000"/></feComponentTransfer></filter><g clip-path="url(#clip)"><g><g transform="translate(0.30,-0.40)"><g filter="url(#f6_0)"><g transform="translate(-0.30,0.40)"><rect x="-20" y="-20" width="699.2" height="452.6" fill="#121212"/><path d="M156.2,311.0 L135.6,278.2 L146.8,251.9 L170.3,233.1 L226.6,221.9 L273.6,212.5 L320.5,195.6 L358.1,176.8 L395.6,160.9 L423.8,140.2 L447.2,118.6 L461.3,85.8 L480.1,38.9 L630.3,38.9 L630.3,404.8 L156.2,404.8Z" fill="#2e2e2e"/><ellipse cx="137.4" cy="132.7" rx="51.6" ry="26.3" fill="#2b2b2b"/><ellipse cx="151.5" cy="144.0" rx="28.2" ry="4.7" fill="#3a3a3a"/><ellipse cx="62.3" cy="182.4" rx="23.5" ry="12.2" fill="#282828"/><ellipse cx="198.5" cy="259.4" rx="75.1" ry="26.3" fill="#2c2c2c"/><ellipse cx="217.2" cy="264.1" rx="28.2" ry="11.3" fill="#3c3c3c"/><ellipse cx="367.5" cy="148.7" rx="56.3" ry="11.3" fill="#181818"/><ellipse cx="311.1" cy="174.9" rx="28.2" ry="14.1" fill="#191919"/><ellipse cx="480.1" cy="97.1" rx="18.8" ry="9.4" fill="#212121"/><path d="M461.3,165.6 L480.1,142.1 L466.0,113.9 L480.1,85.8 L489.5,48.3 L536.4,67.0 L574.0,95.2 L620.9,95.2 L620.9,123.3 L574.0,160.9 L527.0,179.6 L489.5,184.3Z" fill="#353535"/><ellipse cx="531.7" cy="137.4" rx="37.6" ry="28.1" fill="#474747"/><ellipse cx="545.8" cy="151.5" rx="23.5" ry="14.1" fill="#505050"/><ellipse cx="508.3" cy="71.7" rx="18.8" ry="14.1" fill="#424242"/><path d="M320.5,273.5 L329.9,235.9 L358.1,212.5 L395.6,193.7 L433.2,174.9 L470.7,164.6 L508.3,170.2 L508.3,273.5Z" fill="#373737"/><ellipse cx="409.7" cy="203.1" rx="37.6" ry="20.6" fill="#434343"/><ellipse cx="297.0" cy="203.1" rx="23.5" ry="7.5" fill="#404040"/><ellipse cx="470.7" cy="221.9" rx="18.8" ry="18.8" fill="#4c4c4c"/><path d="M268.9,367.3 L273.6,325.1 L287.7,301.6 L304.6,273.5 L323.3,254.7 L358.1,240.6 L423.8,233.1 L498.9,233.1 L508.3,301.6 L461.3,367.3 L358.1,376.7Z" fill="#545454"/><ellipse cx="297.0" cy="315.7" rx="18.8" ry="26.3" fill="#494949"/><ellipse cx="329.9" cy="296.9" rx="16.9" ry="23.5" fill="#4b4b4b"/><ellipse cx="400.3" cy="294.1" rx="84.5" ry="46.9" fill="#6d6d6d"/><ellipse cx="400.3" cy="292.2" rx="65.7" ry="33.8" fill="#767676"/><ellipse cx="456.6" cy="301.6" rx="26.3" ry="35.7" fill="#787878"/><ellipse cx="353.4" cy="329.8" rx="32.9" ry="15.0" fill="#757575"/><ellipse cx="376.8" cy="317.6" rx="28.2" ry="15.0" fill="#8a8a8a"/><ellipse cx="451.9" cy="287.5" rx="23.5" ry="23.5" fill="#878787"/><ellipse cx="395.6" cy="268.8" rx="18.8" ry="9.4" fill="#858585"/><ellipse cx="405.0" cy="334.4" rx="23.5" ry="9.4" fill="#8a8a8a"/><ellipse cx="372.1" cy="314.7" rx="15.0" ry="4.7" fill="#b6b6b6"/><ellipse cx="411.6" cy="331.6" rx="8.4" ry="6.6" fill="#b6b6b6"/><ellipse cx="386.2" cy="343.8" rx="9.4" ry="4.7" fill="#adadad"/><ellipse cx="374.0" cy="374.8" rx="18.8" ry="14.1" fill="#838383"/></g></g></g></g></g><path d="M208.2,295.6 L218.9,287.3 L230.1,281.7 L238.0,279.2 L245.9,277.1 L250.8,280.2 L252.1,287.5 L241.2,288.7 L225.3,300.2 L209.4,300.2Z" fill="#fff"/><ellipse cx="86" cy="221" rx="7.5" ry="6" fill="#fff"/><ellipse cx="341.2" cy="203.1" rx="4.5" ry="3.5" fill="#fff"/><g fill="none" stroke="#000" stroke-width="4.3" stroke-linejoin="round"><use href="#cn"/><use href="#hn"/></g><use href="#tw" fill="#fff" stroke="#000" stroke-width="3.6" stroke-linejoin="round"/><use href="#mk"/></g><path d="M93.7,3V412.6M188.0,3V412.6M282.3,3V412.6M376.6,3V412.6M470.9,3V412.6M565.2,3V412.6M3,367.3H659.2M3,273.5H659.2M3,179.6H659.2M3,85.8H659.2" fill="none" stroke="#000" stroke-width="1.7" stroke-dasharray="1.7 6.15"/><path d="M2,2.6H659.2" fill="none" stroke="#000" stroke-width="1.6" stroke-dasharray="1.6 2.3"/><rect x="576.6" y="302.0" width="82.6" height="110.6" fill="#fdfdfd"/><path d="M576.6,412.6V300.5" stroke="#000" stroke-width="2.2" fill="none"/><path d="M575.5,302.0H659.2" stroke="#000" stroke-width="3.2" fill="none"/><path d="M658.0,302.0V412.6" stroke="#000" stroke-width="3.6" fill="none"/><path d="M576.6,410.4H659.2" stroke="#000" stroke-width="5.5" fill="none"/><g fill="#111"><rect x="584.6" y="314.0" width="2.8" height="1.8"/><rect x="586.6" y="316.0" width="1.8" height="1.8"/><rect x="588.6" y="318.0" width="1.8" height="1.8"/><rect x="590.6" y="321.0" width="5.8" height="2.8"/><rect x="591.6" y="319.0" width="3.8" height="2.8"/><rect x="592.6" y="316.0" width="2.8" height="1.8"/><rect x="594.6" y="314.0" width="1.8" height="1.8"/><rect x="595.6" y="312.0" width="1.8" height="1.8"/><rect x="600.6" y="314.0" width="1.8" height="1.8"/><rect x="604.6" y="314.0" width="3.8" height="1.8"/><rect x="607.6" y="312.0" width="4.8" height="2.8"/><rect x="612.6" y="310.0" width="5.8" height="1.8"/><rect x="623.6" y="308.0" width="1.8" height="1.8"/><rect x="626.6" y="306.0" width="3.8" height="1.8"/><rect x="637.6" y="306.0" width="4.8" height="2.8"/><rect x="645.6" y="312.0" width="1.8" height="1.8"/><rect x="649.6" y="310.0" width="1.8" height="1.8"/><rect x="649.6" y="316.0" width="1.8" height="1.8"/><rect x="586.6" y="324.0" width="1.8" height="1.8"/><rect x="584.6" y="330.0" width="1.8" height="1.8"/><rect x="592.6" y="330.0" width="1.8" height="1.8"/><rect x="598.6" y="335.0" width="1.8" height="1.8"/><rect x="598.6" y="339.0" width="4.8" height="1.8"/><rect x="601.6" y="337.0" width="3.8" height="1.8"/><rect x="609.6" y="343.0" width="3.8" height="1.8"/><rect x="613.6" y="340.0" width="2.8" height="2.8"/><rect x="592.6" y="361.0" width="1.8" height="1.8"/><rect x="635.6" y="361.0" width="1.8" height="1.8"/><rect x="613.6" y="365.0" width="1.8" height="4.8"/><rect x="613.6" y="364.0" width="4.8" height="1.8"/><rect x="619.6" y="365.0" width="1.8" height="2.8"/><rect x="625.6" y="363.0" width="2.8" height="2.8"/><rect x="606.6" y="370.0" width="1.8" height="1.8"/><rect x="610.6" y="372.0" width="1.8" height="1.8"/><rect x="621.6" y="370.0" width="1.8" height="1.8"/><rect x="600.6" y="375.0" width="1.8" height="1.8"/><rect x="592.6" y="376.0" width="1.8" height="2.8"/><rect x="590.6" y="379.0" width="1.8" height="2.8"/><rect x="598.6" y="380.0" width="1.8" height="1.8"/><rect x="606.6" y="378.0" width="1.8" height="1.8"/><rect x="610.6" y="380.0" width="1.8" height="1.8"/><rect x="619.6" y="380.0" width="1.8" height="1.8"/><rect x="604.6" y="390.0" width="1.8" height="1.8"/><rect x="602.6" y="398.0" width="3.8" height="1.8"/></g><rect x="0" y="0" width="659.2" height="412.6" fill="none" stroke="#000" stroke-width="1.9"/><path d="M0.0,0v-8M0.0,412.6v8.5M93.7,0v-8M93.7,412.6v8.5M188.0,0v-8M188.0,412.6v8.5M282.3,0v-8M282.3,412.6v8.5M376.6,0v-8M376.6,412.6v8.5M470.9,0v-8M470.9,412.6v8.5M565.2,0v-8M565.2,412.6v8.5M659.2,0v-8M659.2,412.6v8.5M0,367.3h-8M659.2,367.3h6M0,273.5h-8M659.2,273.5h6M0,179.6h-8M659.2,179.6h6M0,85.8h-8M659.2,85.8h6M0,414.1h-8M659.2,414.1h6" fill="none" stroke="#000" stroke-width="1.7"/><text x="15.7" y="44.1" font-size="46.4">g)SMP-Nonlinear</text><text x="8.3" y="398.7" font-size="43">65.33%</text></g>
<g transform="translate(982.4,1324.0)"><g transform="translate(-0.7,0)"><filter id="f7_0" filterUnits="userSpaceOnUse" x="0" y="0" width="662" height="417" color-interpolation-filters="sRGB"><feGaussianBlur in="SourceGraphic" stdDeviation="3.0" result="b"/><feTurbulence type="fractalNoise" baseFrequency="0.050" numOctaves="2" seed="52" result="t1"/><feColorMatrix in="t1" type="matrix" values="1 0 0 0 0 1 0 0 0 0 1 0 0 0 0 0 0 0 0 1" result="n1"/><feComposite in="b" in2="n1" operator="arithmetic" k1="0.5500" k2="0.7250" k3="0" k4="0" result="s1"/><feTurbulence type="fractalNoise" baseFrequency="0.400" numOctaves="1" seed="46" result="t2"/><feColorMatrix in="t2" type="matrix" values="0 1 0 0 0 0 1 0 0 0 0 1 0 0 0 0 0 0 0 1" result="n2"/><feComposite in="s1" in2="n2" operator="arithmetic" k1="0.8500" k2="0.5750" k3="0.0929" k4="-0.0464" result="s2"/><feFlood x="1" y="1" width="1" height="1" flood-color="#fff" result="dot"/><feComposite in="dot" in2="dot" operator="over" x="0" y="0" width="3" height="3" result="cell"/><feTile in="cell" result="grid"/><feComposite in="s2" in2="grid" operator="in" result="sm"/><feMorphology in="sm" operator="dilate" radius="1" result="pix"/><feComponentTransfer in="pix"><feFuncR type="discrete" tableValues="0.467 0.467 0.000 0.039 0.439 0.439 0.600 1.000 0.941 0.910 0.600 0.600 0.600 0.600"/><feFuncG type="discrete" tableValues="0.200 0.200 0.251 0.518 1.000 1.000 1.000 1.000 0.502 0.020 0.000 0.000 0.000 0.000"/><feFuncB type="discrete" tableValues="1.000 1.000 1.000 1.000 1.000 0.439 0.000 0.000 0.000 0.020 0.000 0.000 0.000 0.000"/></feComponentTransfer></filter><g clip-path="url(#clip)"><g><g transform="translate(0.30,0.00)"><g filter="url(#f7_0)"><g transform="translate(-0.30,-0.00)"><rect x="-20" y="-20" width="699.2" height="454.3" fill="#121212"/><path d="M156.2,311.0 L135.6,278.2 L146.8,251.9 L170.3,233.1 L226.6,221.9 L273.6,212.5 L320.5,195.6 L358.1,176.8 L395.6,160.9 L423.8,140.2 L447.2,118.6 L461.3,85.8 L480.1,38.9 L630.3,38.9 L630.3,404.8 L156.2,404.8Z" fill="#2f2f2f"/><ellipse cx="128.1" cy="140.2" rx="56.3" ry="26.3" fill="#2e2e2e"/><ellipse cx="142.1" cy="144.0" rx="37.6" ry="7.5" fill="#424242"/><ellipse cx="67.0" cy="177.8" rx="23.5" ry="12.2" fill="#2c2c2c"/><ellipse cx="203.2" cy="254.7" rx="84.5" ry="31.0" fill="#2f2f2f"/><ellipse cx="207.9" cy="259.4" rx="37.6" ry="15.0" fill="#454545"/><ellipse cx="207.9" cy="254.7" rx="7.5" ry="3.8" fill="#b6b6b6"/><ellipse cx="170.3" cy="207.8" rx="18.8" ry="9.4" fill="#2a2a2a"/><ellipse cx="367.5" cy="148.7" rx="56.3" ry="11.3" fill="#181818"/><ellipse cx="311.1" cy="172.1" rx="28.2" ry="12.2" fill="#191919"/><path d="M461.3,165.6 L480.1,142.1 L466.0,113.9 L480.1,85.8 L489.5,48.3 L536.4,67.0 L574.0,95.2 L620.9,95.2 L620.9,123.3 L574.0,160.9 L527.0,179.6 L489.5,184.3Z" fill="#404040"/><ellipse cx="531.7" cy="128.0" rx="46.9" ry="32.8" fill="#4c4c4c"/><ellipse cx="498.9" cy="71.7" rx="23.5" ry="18.8" fill="#494949"/><ellipse cx="480.1" cy="99.9" rx="14.1" ry="9.4" fill="#282828"/><path d="M320.5,273.5 L329.9,235.9 L358.1,212.5 L395.6,193.7 L433.2,174.9 L470.7,164.6 L508.3,170.2 L508.3,273.5Z" fill="#404040"/><ellipse cx="409.7" cy="203.1" rx="42.2" ry="20.6" fill="#4c4c4c"/><ellipse cx="297.0" cy="205.0" rx="28.2" ry="9.4" fill="#454545"/><ellipse cx="466.0" cy="221.9" rx="23.5" ry="23.5" fill="#505050"/><path d="M268.9,367.3 L273.6,325.1 L287.7,301.6 L304.6,273.5 L323.3,254.7 L358.1,240.6 L423.8,233.1 L498.9,233.1 L508.3,301.6 L461.3,367.3 L358.1,376.7Z" fill="#5b5b5b"/><ellipse cx="297.0" cy="315.7" rx="18.8" ry="26.3" fill="#4e4e4e"/><ellipse cx="311.1" cy="268.8" rx="23.5" ry="28.1" fill="#4e4e4e"/><ellipse cx="405.0" cy="296.9" rx="79.8" ry="43.2" fill="#717171"/><ellipse cx="400.3" cy="292.2" rx="65.7" ry="32.8" fill="#787878"/><ellipse cx="456.6" cy="296.9" rx="28.2" ry="37.5" fill="#808080"/><ellipse cx="353.4" cy="329.8" rx="32.9" ry="15.0" fill="#757575"/><ellipse cx="376.8" cy="317.6" rx="30.0" ry="16.9" fill="#878787"/><ellipse cx="414.4" cy="278.2" rx="37.6" ry="18.8" fill="#838383"/><ellipse cx="468.8" cy="287.5" rx="13.1" ry="26.3" fill="#8e8e8e"/><ellipse cx="409.7" cy="331.6" rx="23.5" ry="9.4" fill="#8a8a8a"/><ellipse cx="370.3" cy="316.6" rx="15.0" ry="6.6" fill="#c1c1c1"/><ellipse cx="414.4" cy="331.6" rx="11.3" ry="6.6" fill="#bdbdbd"/><ellipse cx="386.2" cy="343.8" rx="9.4" ry="4.7" fill="#adadad"/><ellipse cx="374.0" cy="374.8" rx="18.8" ry="14.1" fill="#929292"/></g></g></g></g></g><path d="M208.2,295.6 L218.9,287.3 L230.1,281.7 L238.0,279.2 L245.9,277.1 L250.8,280.2 L252.1,287.5 L241.2,288.7 L225.3,300.2 L209.4,300.2Z" fill="#fff"/><ellipse cx="86" cy="221" rx="7.5" ry="6" fill="#fff"/><ellipse cx="341.2" cy="203.1" rx="4.5" ry="3.5" fill="#fff"/><g fill="none" stroke="#000" stroke-width="4.3" stroke-linejoin="round"><use href="#cn"/><use href="#hn"/></g><use href="#tw" fill="#fff" stroke="#000" stroke-width="3.6" stroke-linejoin="round"/><use href="#mk"/></g><path d="M93.7,3V414.3M188.0,3V414.3M282.3,3V414.3M376.6,3V414.3M470.9,3V414.3M565.2,3V414.3M3,367.3H659.2M3,273.5H659.2M3,179.6H659.2M3,85.8H659.2" fill="none" stroke="#000" stroke-width="1.7" stroke-dasharray="1.7 6.15"/><path d="M2,2.6H659.2" fill="none" stroke="#000" stroke-width="1.6" stroke-dasharray="1.6 2.3"/><rect x="576.6" y="302.0" width="82.6" height="112.3" fill="#fdfdfd"/><path d="M576.6,414.3V300.5" stroke="#000" stroke-width="2.2" fill="none"/><path d="M575.5,302.0H659.2" stroke="#000" stroke-width="3.2" fill="none"/><path d="M658.0,302.0V414.3" stroke="#000" stroke-width="3.6" fill="none"/><path d="M576.6,412.1H659.2" stroke="#000" stroke-width="5.5" fill="none"/><g fill="#111"><rect x="584.6" y="314.0" width="2.8" height="1.8"/><rect x="586.6" y="316.0" width="1.8" height="1.8"/><rect x="588.6" y="318.0" width="1.8" height="1.8"/><rect x="590.6" y="321.0" width="5.8" height="2.8"/><rect x="591.6" y="319.0" width="3.8" height="2.8"/><rect x="592.6" y="316.0" width="2.8" height="1.8"/><rect x="594.6" y="314.0" width="1.8" height="1.8"/><rect x="595.6" y="312.0" width="1.8" height="1.8"/><rect x="600.6" y="314.0" width="1.8" height="1.8"/><rect x="604.6" y="314.0" width="3.8" height="1.8"/><rect x="607.6" y="312.0" width="4.8" height="2.8"/><rect x="612.6" y="310.0" width="5.8" height="1.8"/><rect x="623.6" y="308.0" width="1.8" height="1.8"/><rect x="626.6" y="306.0" width="3.8" height="1.8"/><rect x="637.6" y="306.0" width="4.8" height="2.8"/><rect x="645.6" y="312.0" width="1.8" height="1.8"/><rect x="649.6" y="310.0" width="1.8" height="1.8"/><rect x="649.6" y="316.0" width="1.8" height="1.8"/><rect x="586.6" y="324.0" width="1.8" height="1.8"/><rect x="584.6" y="330.0" width="1.8" height="1.8"/><rect x="592.6" y="330.0" width="1.8" height="1.8"/><rect x="598.6" y="335.0" width="1.8" height="1.8"/><rect x="598.6" y="339.0" width="4.8" height="1.8"/><rect x="601.6" y="337.0" width="3.8" height="1.8"/><rect x="609.6" y="343.0" width="3.8" height="1.8"/><rect x="613.6" y="340.0" width="2.8" height="2.8"/><rect x="592.6" y="361.0" width="1.8" height="1.8"/><rect x="635.6" y="361.0" width="1.8" height="1.8"/><rect x="613.6" y="365.0" width="1.8" height="4.8"/><rect x="613.6" y="364.0" width="4.8" height="1.8"/><rect x="619.6" y="365.0" width="1.8" height="2.8"/><rect x="625.6" y="363.0" width="2.8" height="2.8"/><rect x="606.6" y="370.0" width="1.8" height="1.8"/><rect x="610.6" y="372.0" width="1.8" height="1.8"/><rect x="621.6" y="370.0" width="1.8" height="1.8"/><rect x="600.6" y="375.0" width="1.8" height="1.8"/><rect x="592.6" y="376.0" width="1.8" height="2.8"/><rect x="590.6" y="379.0" width="1.8" height="2.8"/><rect x="598.6" y="380.0" width="1.8" height="1.8"/><rect x="606.6" y="378.0" width="1.8" height="1.8"/><rect x="610.6" y="380.0" width="1.8" height="1.8"/><rect x="619.6" y="380.0" width="1.8" height="1.8"/><rect x="604.6" y="390.0" width="1.8" height="1.8"/><rect x="602.6" y="398.0" width="3.8" height="1.8"/></g><rect x="0" y="0" width="659.2" height="414.3" fill="none" stroke="#000" stroke-width="1.9"/><path d="M0.0,0v-8M0.0,414.3v8.5M93.7,0v-8M93.7,414.3v8.5M188.0,0v-8M188.0,414.3v8.5M282.3,0v-8M282.3,414.3v8.5M376.6,0v-8M376.6,414.3v8.5M470.9,0v-8M470.9,414.3v8.5M565.2,0v-8M565.2,414.3v8.5M659.2,0v-8M659.2,414.3v8.5M0,367.3h-8M659.2,367.3h6M0,273.5h-8M659.2,273.5h6M0,179.6h-8M659.2,179.6h6M0,85.8h-8M659.2,85.8h6M0,415.8h-8M659.2,415.8h6" fill="none" stroke="#000" stroke-width="1.7"/><text x="15.7" y="44.1" font-size="46.4">h)SMP-CDF</text><text x="8.3" y="400.4" font-size="43">46.97%</text><text x="-3.8" y="469.3" font-size="43" text-anchor="middle">70</text><text x="186.5" y="469.3" font-size="43" text-anchor="middle">90</text><text x="375.1" y="469.3" font-size="43" text-anchor="middle">110</text><text x="563.7" y="469.3" font-size="43" text-anchor="middle">130</text><text x="298.1" y="522.2" font-size="55"><tspan font-size="51" dy="-1.7" fill="#333">°</tspan><tspan dy="1.7" dx="0.3">E</tspan></text></g>
<rect x="1761.7" y="1382.8" width="78.0" height="113.7" fill="#7733ff"/>
<rect x="1761.7" y="1269.5" width="78.0" height="113.7" fill="#0040ff"/>
<rect x="1761.7" y="1156.3" width="78.0" height="113.7" fill="#0a84ff"/>
<rect x="1761.7" y="1043.0" width="78.0" height="113.7" fill="#70ffff"/>
<rect x="1761.7" y="929.8" width="78.0" height="113.7" fill="#70ff70"/>
<rect x="1761.7" y="816.6" width="78.0" height="113.7" fill="#99ff00"/>
<rect x="1761.7" y="703.3" width="78.0" height="113.7" fill="#ffff00"/>
<rect x="1761.7" y="590.1" width="78.0" height="113.7" fill="#f08000"/>
<rect x="1761.7" y="476.8" width="78.0" height="113.7" fill="#e80505"/>
<rect x="1761.7" y="363.6" width="78.0" height="113.7" fill="#990000"/>
<rect x="1761.7" y="363.6" width="78.0" height="1132.4" fill="none" stroke="#0a0020" stroke-opacity="0.8" stroke-width="1.8"/>
<path d="M1839.7,1382.8h-6M1839.7,1269.5h-6M1839.7,1156.3h-6M1839.7,1043.0h-6M1839.7,929.8h-6M1839.7,816.6h-6M1839.7,703.3h-6M1839.7,590.1h-6M1839.7,476.8h-6" stroke="#000" stroke-opacity="0.6" stroke-width="1.3" fill="none"/>
<text x="1844.3" y="1512.2" font-size="43">0</text>
<text x="1844.3" y="1399.0" font-size="43">1</text>
<text x="1844.3" y="1285.7" font-size="43">2</text>
<text x="1844.3" y="1172.5" font-size="43">3</text>
<text x="1844.3" y="1059.2" font-size="43">4</text>
<text x="1844.3" y="946.0" font-size="43">5</text>
<text x="1844.3" y="832.8" font-size="43">6</text>
<text x="1844.3" y="719.5" font-size="43">7</text>
<text x="1844.3" y="606.3" font-size="43">8</text>
<text x="1844.3" y="493.0" font-size="43">9</text>
</svg></body></html>
